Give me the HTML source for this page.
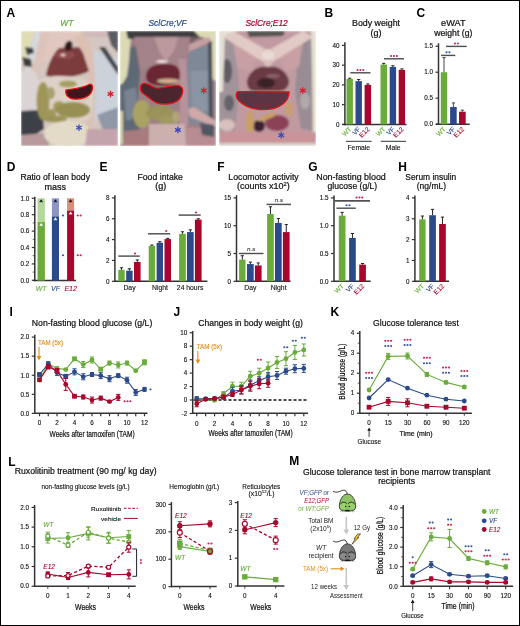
<!DOCTYPE html>
<html><head><meta charset="utf-8"><style>
html,body{margin:0;padding:0;background:#fff;}
#w{position:relative;width:520px;height:626px;overflow:hidden;background:#fff;}
svg{position:absolute;left:0;top:0;font-family:"Liberation Sans",sans-serif;will-change:transform;}
#frame{position:absolute;left:0;top:0;width:518px;height:624px;border:1px solid #000;}
</style></head><body><div id="w">
<svg width="520" height="626" viewBox="0 0 520 626">
<defs><filter id="pb" x="-5%" y="-5%" width="110%" height="110%"><feGaussianBlur stdDeviation="1.3"/></filter><filter id="pb2"><feGaussianBlur stdDeviation="0.5"/></filter><clipPath id="c1"><rect x="0" y="0" width="97" height="115"/></clipPath><clipPath id="c2"><rect x="0" y="0" width="96" height="115"/></clipPath></defs>
<g transform="translate(21 31)"><g clip-path="url(#c1)"><g filter="url(#pb)"><rect x="0" y="0" width="97" height="115" fill="#d4c6c0"/><polygon points="0,0 14,0 11,10 7,22 4,32 0,34" fill="#e0dcb6"/><polygon points="14,0 22,0 16,20 10,40 4,42 6,30 10,14" fill="#d6d8da"/><polygon points="4,16 12,17 13,22 6,24" fill="#3c3e40"/><polygon points="1,26 10,28 11,36 3,35" fill="#3c3e40"/><polygon points="20,0 30,0 24,28 12,55 4,52 14,28" fill="#dcc4bc"/><polygon points="30,0 97,0 97,6 30,6" fill="#d0b8b8"/><polygon points="30,0 62,0 52,12 44,16 36,20 28,30 22,30" fill="#e0c8c0"/><path d="M25 44 C27 34 31 24 38 17 L62 16 C66 22 69 32 68 40 C60 45 48 46 40 46 C32 46 26 46 25 44Z" fill="#7c3a3c"/><ellipse cx="44" cy="24" rx="10" ry="4" fill="#8e4e4e"/><ellipse cx="47.5" cy="15" rx="3.8" ry="5.5" fill="#2e1a1c" transform="rotate(20 47.5 15)"/><ellipse cx="42" cy="24" rx="2.5" ry="1.2" fill="#e8d0d0"/><polygon points="52,6 62,2 72,20 76,40 74,60 72,80 70,100 66,100 68,70 68,40 62,22" fill="#dcc0b4"/><polygon points="72,18 97,28 97,86 74,88 75,60" fill="#ccd2da"/><polygon points="76,84 97,76 97,106 84,104" fill="#8e98a6"/><polygon points="78,16 84,16 97,36 97,44" fill="#42464c"/><polygon points="86,0 97,0 97,22 90,14" fill="#5a5c62"/><polygon points="0,40 14,40 22,60 20,80 0,80" fill="#dcd4d4"/><polygon points="0,80 16,79 22,84 23,98 14,104 0,104" fill="#3c4046"/><polygon points="0,104 26,102 28,115 0,115" fill="#b89a9c"/><path d="M18 50 C24 45 36 44 52 46 C62 47 70 50 72 60 C73 70 71 82 68 88 C60 93 44 93 30 92 C22 90 17 84 16 72 C15 62 15 54 18 50Z" fill="#ddd0c6"/><ellipse cx="22" cy="70" rx="6.5" ry="19" fill="#9e9658"/><ellipse cx="38" cy="76" rx="6" ry="6" fill="#a49c5c"/><ellipse cx="30" cy="83" rx="5" ry="5" fill="#a09858"/><ellipse cx="47" cy="53" rx="9" ry="3.5" fill="#a69e60"/><ellipse cx="52" cy="79" rx="17" ry="8" fill="#989052"/><ellipse cx="34" cy="88" rx="12" ry="3.5" fill="#9c9456"/><ellipse cx="30" cy="62" rx="4" ry="6" fill="#a8a070"/><ellipse cx="61" cy="66" rx="7" ry="3" fill="#c8bc98"/><ellipse cx="47" cy="103" rx="24" ry="13" fill="#e3dbc8"/><polygon points="66,98 97,98 97,115 64,115" fill="#c4a4ac"/></g></g>
<path d="M45 59 C52 58 62 57 68 53.5 C72 52 72 57 70.5 61 C68 66 60 68.5 53 68 C47 67.5 44 64 45 59 Z" fill="#3e161c" stroke="#e01414" stroke-width="1.3"/>
</g>
<g transform="translate(120 31)"><g clip-path="url(#c2)"><g filter="url(#pb)"><rect x="0" y="0" width="96" height="115" fill="#9c7e86"/><polygon points="0,20 18,14 20,40 18,70 20,106 0,108" fill="#5e6874"/><polygon points="4,60 16,56 18,86 6,90" fill="#7a8490"/><polygon points="0,0 12,0 10,15 9,30 7,45 3,52 0,54" fill="#dcdab4"/><polygon points="0,80 3,80 3,113 0,113" fill="#d0cca8"/><polygon points="6,0 90,0 88,7 8,8" fill="#3e3c40"/><polygon points="14,6 80,6 70,14 24,14" fill="#7a5e64"/><polygon points="74,0 96,0 96,50 92,48 90,8 80,6" fill="#dcdab4"/><polygon points="64,20 90,14 93,60 93,94 66,92" fill="#7e8896"/><polygon points="70,40 88,40 88,80 72,80" fill="#8a94a2"/><polygon points="88,10 92,10 93,100 89,100" fill="#4a4e58"/><polygon points="62,16 88,6 92,10 66,22" fill="#c6a0a2"/><polygon points="14,6 70,6 68,30 58,36 30,36 20,40" fill="#a4828a"/><polygon points="34,6 58,6 54,20 46,30 40,22" fill="#bc9a9c"/><polygon points="58,28 66,28 68,60 68,95 60,95 60,60" fill="#b8929a"/><path d="M26 46 C26 38 32 33 42 33 C52 32 60 35 60 42 C61 50 56 55 44 55 C32 55 26 52 26 46Z" fill="#6a2830"/><ellipse cx="48" cy="50" rx="11" ry="2.6" fill="#c8b090"/><ellipse cx="42" cy="30.5" rx="6" ry="1.4" fill="#f0e0dc"/><ellipse cx="22" cy="83" rx="9" ry="14" fill="#aaa264"/><ellipse cx="40" cy="82" rx="14" ry="8" fill="#99925a"/><ellipse cx="48" cy="89" rx="10" ry="4" fill="#a09860"/><ellipse cx="56" cy="86" rx="4" ry="6" fill="#b0a478"/><polygon points="4,100 30,98 30,115 4,115" fill="#a87c7e"/><polygon points="29,93 65,93 66,115 29,115" fill="#ccb0b0"/><polygon points="66,96 96,98 96,115 66,115" fill="#b88c90"/><polygon points="68,78 74,76 96,90 96,96 70,86" fill="#d0a8a8"/><polygon points="80,92 94,94 94,106 82,104" fill="#505860"/></g></g>
<path d="M20.5 57 C20.5 53 23 52 26 52.6 C30 53.5 33 56.5 37 57.2 C43 57 52 54.5 58 54.6 C62 55 63.5 58 62.5 62 C61.5 66 58 70.5 53 72 C47 73.5 40 73 36 71.6 C31 69 27 65 23.5 62.8 C21.5 61.5 20.5 59.5 20.5 57 Z" fill="#4c262e" stroke="#e01414" stroke-width="1.3"/>
</g>
<g transform="translate(219 31)"><g clip-path="url(#c1)"><g filter="url(#pb)"><rect x="0" y="0" width="97" height="115" fill="#c09aa0"/><polygon points="0,8 16,8 20,60 16,100 0,100" fill="#a0939a"/><ellipse cx="8" cy="40" rx="5" ry="12" fill="#5e5c64"/><ellipse cx="10" cy="72" rx="5" ry="8" fill="#66646a"/><polygon points="80,8 94,8 94,100 82,98 76,60" fill="#9a8c94"/><ellipse cx="86" cy="70" rx="5" ry="8" fill="#b0a8aa"/><polygon points="0,0 6,0 4,60 0,62" fill="#e4e0d4"/><polygon points="0,0 18,0 10,6 0,8" fill="#e4e0d4"/><polygon points="92,0 97,0 97,115 94,115 93,40" fill="#e4e0d0"/><polygon points="28,0 66,0 64,5 30,6" fill="#55524f"/><polygon points="14,10 40,26 30,40 18,36" fill="#c8a0a4"/><polygon points="84,10 58,26 68,40 80,36" fill="#c8a0a4"/><polygon points="4,6 14,0 50,20 46,32" fill="#e2cac6"/><polygon points="94,6 84,0 48,20 52,32" fill="#e2cac6"/><polygon points="44,18 54,18 52,40 46,40" fill="#dcc0bc"/><ellipse cx="49" cy="24" rx="6" ry="5" fill="#eadad6"/><path d="M28 50 C30 40 40 34 49 36 C58 34 68 40 70 50 C70 56 66 60 60 60 L36 60 C30 60 28 56 28 50Z" fill="#6a3a44"/><ellipse cx="47" cy="52" rx="9" ry="5" fill="#3a2026"/><ellipse cx="54" cy="45" rx="7" ry="2" fill="#8a6068"/><ellipse cx="58" cy="92" rx="12" ry="8" fill="#8c4256"/><ellipse cx="40" cy="95" rx="6" ry="6" fill="#3e2430"/><ellipse cx="31" cy="92" rx="4" ry="13" fill="#c8a064"/><ellipse cx="48" cy="86" rx="10" ry="2.5" fill="#c8a064" transform="rotate(-20 48 86)"/><ellipse cx="70" cy="78" rx="4" ry="7" fill="#c8a070"/><ellipse cx="8" cy="94" rx="8" ry="6" fill="#d8c0bc"/><polygon points="0,101 97,101 97,112 0,112" fill="#c8949a"/><polygon points="0,112 97,112 97,115 0,115" fill="#ddd4cc"/></g></g>
<path d="M19 60.6 L70 60.8 C70.5 66 67 72 60 75.5 C54 78.5 46 79 40 78.5 C31 77.5 24 74 19.5 69.5 C16.5 66 16.5 62 19 60.6 Z" fill="#5c3444" stroke="#e01414" stroke-width="1.3"/>
</g>
<line x1="110.50" y1="91.20" x2="110.50" y2="96.80" stroke="#d8202c" stroke-width="1.25" stroke-linecap="round"/><line x1="112.92" y1="92.60" x2="108.08" y2="95.40" stroke="#d8202c" stroke-width="1.25" stroke-linecap="round"/><line x1="112.92" y1="95.40" x2="108.08" y2="92.60" stroke="#d8202c" stroke-width="1.25" stroke-linecap="round"/>
<line x1="79.00" y1="124.80" x2="79.00" y2="130.40" stroke="#3848c0" stroke-width="1.25" stroke-linecap="round"/><line x1="81.42" y1="126.20" x2="76.58" y2="129.00" stroke="#3848c0" stroke-width="1.25" stroke-linecap="round"/><line x1="81.42" y1="129.00" x2="76.58" y2="126.20" stroke="#3848c0" stroke-width="1.25" stroke-linecap="round"/>
<line x1="203.80" y1="87.70" x2="203.80" y2="93.30" stroke="#d8202c" stroke-width="1.25" stroke-linecap="round"/><line x1="206.22" y1="89.10" x2="201.38" y2="91.90" stroke="#d8202c" stroke-width="1.25" stroke-linecap="round"/><line x1="206.22" y1="91.90" x2="201.38" y2="89.10" stroke="#d8202c" stroke-width="1.25" stroke-linecap="round"/>
<line x1="177.90" y1="127.20" x2="177.90" y2="132.80" stroke="#3848c0" stroke-width="1.25" stroke-linecap="round"/><line x1="180.32" y1="128.60" x2="175.48" y2="131.40" stroke="#3848c0" stroke-width="1.25" stroke-linecap="round"/><line x1="180.32" y1="131.40" x2="175.48" y2="128.60" stroke="#3848c0" stroke-width="1.25" stroke-linecap="round"/>
<line x1="302.80" y1="87.70" x2="302.80" y2="93.30" stroke="#d8202c" stroke-width="1.25" stroke-linecap="round"/><line x1="305.22" y1="89.10" x2="300.38" y2="91.90" stroke="#d8202c" stroke-width="1.25" stroke-linecap="round"/><line x1="305.22" y1="91.90" x2="300.38" y2="89.10" stroke="#d8202c" stroke-width="1.25" stroke-linecap="round"/>
<line x1="281.20" y1="132.40" x2="281.20" y2="138.00" stroke="#3848c0" stroke-width="1.25" stroke-linecap="round"/><line x1="283.62" y1="133.80" x2="278.78" y2="136.60" stroke="#3848c0" stroke-width="1.25" stroke-linecap="round"/><line x1="283.62" y1="136.60" x2="278.78" y2="133.80" stroke="#3848c0" stroke-width="1.25" stroke-linecap="round"/>
<text x="6.6" y="16.9" font-size="12" fill="#000" font-weight="bold">A</text>
<text x="66.8" y="25.6" font-size="8.4" fill="#6aab3c" text-anchor="middle" font-style="italic" stroke="#6aab3c" stroke-width="0.22">WT</text>
<text x="167.6" y="25.9" font-size="8.4" fill="#2c4a8a" text-anchor="middle" font-style="italic" stroke="#2c4a8a" stroke-width="0.22">SclCre;VF</text>
<text x="266.6" y="25.9" font-size="8.4" fill="#a8062c" text-anchor="middle" font-style="italic" stroke="#a8062c" stroke-width="0.22">SclCre;E12</text>
<text x="324.6" y="16.8" font-size="12" fill="#000" font-weight="bold">B</text>
<text x="376" y="26" font-size="9" fill="#111" text-anchor="middle" textLength="48" lengthAdjust="spacingAndGlyphs" stroke="#111" stroke-width="0.22">Body weight</text>
<text x="375.9" y="36.2" font-size="9" fill="#111" text-anchor="middle" stroke="#111" stroke-width="0.22">(g)</text>
<line x1="344.9" y1="42.3" x2="344.9" y2="125.15" stroke="#333" stroke-width="1.5"/>
<line x1="341.9" y1="124.4" x2="344.9" y2="124.4" stroke="#333" stroke-width="1.2"/>
<text x="339.4" y="126.67" font-size="6.3" fill="#111" text-anchor="end" stroke="#111" stroke-width="0.12">0</text>
<line x1="341.9" y1="104.65" x2="344.9" y2="104.65" stroke="#333" stroke-width="1.2"/>
<text x="339.4" y="106.92" font-size="6.3" fill="#111" text-anchor="end" stroke="#111" stroke-width="0.12">10</text>
<line x1="341.9" y1="84.9" x2="344.9" y2="84.9" stroke="#333" stroke-width="1.2"/>
<text x="339.4" y="87.17" font-size="6.3" fill="#111" text-anchor="end" stroke="#111" stroke-width="0.12">20</text>
<line x1="341.9" y1="65.15" x2="344.9" y2="65.15" stroke="#333" stroke-width="1.2"/>
<text x="339.4" y="67.42" font-size="6.3" fill="#111" text-anchor="end" stroke="#111" stroke-width="0.12">30</text>
<line x1="341.9" y1="45.4" x2="344.9" y2="45.4" stroke="#333" stroke-width="1.2"/>
<text x="339.4" y="47.67" font-size="6.3" fill="#111" text-anchor="end" stroke="#111" stroke-width="0.12">40</text>
<line x1="342.5" y1="124.4" x2="406.5" y2="124.4" stroke="#333" stroke-width="1.5"/>
<rect x="346.5" y="78.97" width="6.4" height="45.43" fill="#6aab3c"/>
<line x1="349.7" y1="78.19" x2="349.7" y2="78.97" stroke="#222" stroke-width="1"/>
<line x1="348.1" y1="78.19" x2="351.3" y2="78.19" stroke="#222" stroke-width="1"/>
<rect x="355.5" y="81.15" width="6.4" height="43.25" fill="#2c4a8a"/>
<line x1="358.7" y1="79.57" x2="358.7" y2="81.15" stroke="#222" stroke-width="1"/>
<line x1="357.1" y1="79.57" x2="360.3" y2="79.57" stroke="#222" stroke-width="1"/>
<rect x="364.6" y="84.9" width="6.5" height="39.5" fill="#a8062c"/>
<line x1="367.85" y1="83.91" x2="367.85" y2="84.9" stroke="#222" stroke-width="1"/>
<line x1="366.25" y1="83.91" x2="369.45" y2="83.91" stroke="#222" stroke-width="1"/>
<rect x="380.5" y="64.56" width="6.5" height="59.84" fill="#6aab3c"/>
<line x1="383.75" y1="63.37" x2="383.75" y2="64.56" stroke="#222" stroke-width="1"/>
<line x1="382.15" y1="63.37" x2="385.35" y2="63.37" stroke="#222" stroke-width="1"/>
<rect x="389.7" y="66.93" width="6.4" height="57.47" fill="#2c4a8a"/>
<line x1="392.9" y1="65.74" x2="392.9" y2="66.93" stroke="#222" stroke-width="1"/>
<line x1="391.3" y1="65.74" x2="394.5" y2="65.74" stroke="#222" stroke-width="1"/>
<rect x="398.7" y="69.89" width="6.4" height="54.51" fill="#a8062c"/>
<line x1="401.9" y1="68.9" x2="401.9" y2="69.89" stroke="#222" stroke-width="1"/>
<line x1="400.3" y1="68.9" x2="403.5" y2="68.9" stroke="#222" stroke-width="1"/>
<line x1="350.3" y1="72.8" x2="370.5" y2="72.8" stroke="#505050" stroke-width="1.45"/>
<ellipse cx="357.5" cy="69.9" rx="1.1" ry="1.0" fill="#c42a52"/>
<ellipse cx="360.4" cy="69.9" rx="1.1" ry="1.0" fill="#c42a52"/>
<ellipse cx="363.3" cy="69.9" rx="1.1" ry="1.0" fill="#c42a52"/>
<line x1="384" y1="58.8" x2="404" y2="58.8" stroke="#505050" stroke-width="1.45"/>
<ellipse cx="391.1" cy="55.9" rx="1.1" ry="1.0" fill="#c42a52"/>
<ellipse cx="394" cy="55.9" rx="1.1" ry="1.0" fill="#c42a52"/>
<ellipse cx="396.9" cy="55.9" rx="1.1" ry="1.0" fill="#c42a52"/>
<text x="351.9" y="129.6" font-size="6.6" fill="#6aab3c" text-anchor="end" transform="rotate(-45 351.9 129.6)" stroke="#6aab3c" stroke-width="0.12">WT</text>
<text x="360.9" y="129.6" font-size="6.6" fill="#2c4a8a" text-anchor="end" transform="rotate(-45 360.9 129.6)" stroke="#2c4a8a" stroke-width="0.12">VF</text>
<text x="370" y="129.6" font-size="6.6" fill="#a8062c" text-anchor="end" transform="rotate(-45 370 129.6)" stroke="#a8062c" stroke-width="0.12">E12</text>
<text x="385.9" y="129.6" font-size="6.6" fill="#6aab3c" text-anchor="end" transform="rotate(-45 385.9 129.6)" stroke="#6aab3c" stroke-width="0.12">WT</text>
<text x="395.1" y="129.6" font-size="6.6" fill="#2c4a8a" text-anchor="end" transform="rotate(-45 395.1 129.6)" stroke="#2c4a8a" stroke-width="0.12">VF</text>
<text x="404.1" y="129.6" font-size="6.6" fill="#a8062c" text-anchor="end" transform="rotate(-45 404.1 129.6)" stroke="#a8062c" stroke-width="0.12">E12</text>
<line x1="346" y1="141.3" x2="371.6" y2="141.3" stroke="#333" stroke-width="1"/>
<line x1="380.8" y1="141.3" x2="406" y2="141.3" stroke="#333" stroke-width="1"/>
<text x="358.8" y="150" font-size="6.8" fill="#111" text-anchor="middle" stroke="#111" stroke-width="0.12">Female</text>
<text x="393.2" y="150" font-size="6.8" fill="#111" text-anchor="middle" stroke="#111" stroke-width="0.12">Male</text>
<text x="416.4" y="16.8" font-size="12" fill="#000" font-weight="bold">C</text>
<text x="453.3" y="26" font-size="9" fill="#111" text-anchor="middle" textLength="24.5" lengthAdjust="spacingAndGlyphs" stroke="#111" stroke-width="0.22">eWAT</text>
<text x="453.3" y="36.2" font-size="9" fill="#111" text-anchor="middle" textLength="38.1" lengthAdjust="spacingAndGlyphs" stroke="#111" stroke-width="0.22">weight (g)</text>
<line x1="438.5" y1="43.3" x2="438.5" y2="125.05" stroke="#333" stroke-width="1.5"/>
<line x1="435.5" y1="124.2" x2="438.5" y2="124.2" stroke="#333" stroke-width="1.2"/>
<text x="433" y="126.47" font-size="6.3" fill="#111" text-anchor="end" stroke="#111" stroke-width="0.12">0.0</text>
<line x1="435.5" y1="98.2" x2="438.5" y2="98.2" stroke="#333" stroke-width="1.2"/>
<text x="433" y="100.47" font-size="6.3" fill="#111" text-anchor="end" stroke="#111" stroke-width="0.12">0.5</text>
<line x1="435.5" y1="72.2" x2="438.5" y2="72.2" stroke="#333" stroke-width="1.2"/>
<text x="433" y="74.47" font-size="6.3" fill="#111" text-anchor="end" stroke="#111" stroke-width="0.12">1.0</text>
<line x1="435.5" y1="46.2" x2="438.5" y2="46.2" stroke="#333" stroke-width="1.2"/>
<text x="433" y="48.47" font-size="6.3" fill="#111" text-anchor="end" stroke="#111" stroke-width="0.12">1.5</text>
<line x1="436" y1="124.3" x2="469.7" y2="124.3" stroke="#333" stroke-width="1.5"/>
<rect x="440.8" y="72.2" width="6.4" height="52.1" fill="#6aab3c"/>
<line x1="444" y1="57.64" x2="444" y2="72.2" stroke="#444" stroke-width="1"/>
<line x1="442.4" y1="57.64" x2="445.6" y2="57.64" stroke="#444" stroke-width="1"/>
<rect x="450.1" y="107.04" width="6.6" height="17.26" fill="#2c4a8a"/>
<line x1="453.4" y1="102.88" x2="453.4" y2="107.04" stroke="#444" stroke-width="1"/>
<line x1="451.8" y1="102.88" x2="455" y2="102.88" stroke="#444" stroke-width="1"/>
<rect x="459" y="111.72" width="6.7" height="12.58" fill="#a8062c"/>
<line x1="462.35" y1="110.16" x2="462.35" y2="111.72" stroke="#444" stroke-width="1"/>
<line x1="460.75" y1="110.16" x2="463.95" y2="110.16" stroke="#444" stroke-width="1"/>
<line x1="441.1" y1="55.4" x2="455.3" y2="55.4" stroke="#505050" stroke-width="1.45"/>
<ellipse cx="446.55" cy="52.2" rx="1.1" ry="1.0" fill="#3a58a4"/>
<ellipse cx="449.45" cy="52.2" rx="1.1" ry="1.0" fill="#3a58a4"/>
<line x1="446" y1="46.4" x2="466.7" y2="46.4" stroke="#505050" stroke-width="1.45"/>
<ellipse cx="454.95" cy="43.4" rx="1.1" ry="1.0" fill="#c42a52"/>
<ellipse cx="457.85" cy="43.4" rx="1.1" ry="1.0" fill="#c42a52"/>
<text x="446.2" y="129.6" font-size="6.6" fill="#6aab3c" text-anchor="end" transform="rotate(-45 446.2 129.6)" stroke="#6aab3c" stroke-width="0.12">WT</text>
<text x="455.6" y="129.6" font-size="6.6" fill="#2c4a8a" text-anchor="end" transform="rotate(-45 455.6 129.6)" stroke="#2c4a8a" stroke-width="0.12">VF</text>
<text x="464.5" y="129.6" font-size="6.6" fill="#a8062c" text-anchor="end" transform="rotate(-45 464.5 129.6)" stroke="#a8062c" stroke-width="0.12">E12</text>
<text x="6.8" y="170.9" font-size="12" fill="#000" font-weight="bold">D</text>
<text x="55.2" y="179.8" font-size="9" fill="#111" text-anchor="middle" textLength="69.6" lengthAdjust="spacingAndGlyphs" stroke="#111" stroke-width="0.22">Ratio of lean body</text>
<text x="55.2" y="189.8" font-size="9" fill="#111" text-anchor="middle" stroke="#111" stroke-width="0.22">mass</text>
<line x1="34.8" y1="196.8" x2="34.8" y2="281.35" stroke="#333" stroke-width="1.5"/>
<line x1="31.8" y1="280.3" x2="34.8" y2="280.3" stroke="#333" stroke-width="1.2"/>
<text x="29.3" y="282.57" font-size="6.3" fill="#111" text-anchor="end" stroke="#111" stroke-width="0.12">0.0</text>
<line x1="31.8" y1="263.9" x2="34.8" y2="263.9" stroke="#333" stroke-width="1.2"/>
<text x="29.3" y="266.17" font-size="6.3" fill="#111" text-anchor="end" stroke="#111" stroke-width="0.12">0.2</text>
<line x1="31.8" y1="247.5" x2="34.8" y2="247.5" stroke="#333" stroke-width="1.2"/>
<text x="29.3" y="249.77" font-size="6.3" fill="#111" text-anchor="end" stroke="#111" stroke-width="0.12">0.4</text>
<line x1="31.8" y1="231.1" x2="34.8" y2="231.1" stroke="#333" stroke-width="1.2"/>
<text x="29.3" y="233.37" font-size="6.3" fill="#111" text-anchor="end" stroke="#111" stroke-width="0.12">0.6</text>
<line x1="31.8" y1="214.7" x2="34.8" y2="214.7" stroke="#333" stroke-width="1.2"/>
<text x="29.3" y="216.97" font-size="6.3" fill="#111" text-anchor="end" stroke="#111" stroke-width="0.12">0.8</text>
<line x1="31.8" y1="198.3" x2="34.8" y2="198.3" stroke="#333" stroke-width="1.2"/>
<text x="29.3" y="200.57" font-size="6.3" fill="#111" text-anchor="end" stroke="#111" stroke-width="0.12">1.0</text>
<line x1="32.7" y1="272.1" x2="34.8" y2="272.1" stroke="#333" stroke-width="0.8"/>
<line x1="32.7" y1="255.7" x2="34.8" y2="255.7" stroke="#333" stroke-width="0.8"/>
<line x1="32.7" y1="239.3" x2="34.8" y2="239.3" stroke="#333" stroke-width="0.8"/>
<line x1="32.7" y1="222.9" x2="34.8" y2="222.9" stroke="#333" stroke-width="0.8"/>
<line x1="32.7" y1="206.5" x2="34.8" y2="206.5" stroke="#333" stroke-width="0.8"/>
<line x1="33.5" y1="280.6" x2="76" y2="280.6" stroke="#333" stroke-width="1.5"/>
<rect x="37.5" y="198.3" width="7.4" height="23.78" fill="#b6d79c"/>
<rect x="37.5" y="222.08" width="7.4" height="58.52" fill="#6aab3c"/>
<path d="M41.2 199.2 l1.7 2.6 h-3.4z" fill="#111"/>
<path d="M41.2 222.98 l1.7 2.6 h-3.4z" fill="#fff"/>
<line x1="39.5" y1="201.8" x2="42.9" y2="201.8" stroke="#111" stroke-width="0.6"/>
<line x1="39.5" y1="225.58" x2="42.9" y2="225.58" stroke="#fff" stroke-width="0.6"/>
<rect x="51.9" y="198.3" width="7.1" height="18.04" fill="#8d96c3"/>
<rect x="51.9" y="216.34" width="7.1" height="64.26" fill="#2c4a8a"/>
<path d="M55.45 199.2 l1.7 2.6 h-3.4z" fill="#111"/>
<path d="M55.45 217.24 l1.7 2.6 h-3.4z" fill="#fff"/>
<line x1="53.75" y1="201.8" x2="57.15" y2="201.8" stroke="#111" stroke-width="0.6"/>
<line x1="53.75" y1="219.84" x2="57.15" y2="219.84" stroke="#fff" stroke-width="0.6"/>
<rect x="67.1" y="198.3" width="7" height="12.3" fill="#d88c7a"/>
<rect x="67.1" y="210.6" width="7" height="70" fill="#a8062c"/>
<path d="M70.6 199.2 l1.7 2.6 h-3.4z" fill="#111"/>
<path d="M70.6 211.5 l1.7 2.6 h-3.4z" fill="#fff"/>
<line x1="68.9" y1="201.8" x2="72.3" y2="201.8" stroke="#111" stroke-width="0.6"/>
<line x1="68.9" y1="214.1" x2="72.3" y2="214.1" stroke="#fff" stroke-width="0.6"/>
<ellipse cx="63" cy="215.4" rx="1.1" ry="1.0" fill="#3a58a4"/>
<ellipse cx="63" cy="255.3" rx="1.1" ry="1.0" fill="#3a58a4"/>
<ellipse cx="77.75" cy="215.4" rx="1.1" ry="1.0" fill="#c42a52"/>
<ellipse cx="80.65" cy="215.4" rx="1.1" ry="1.0" fill="#c42a52"/>
<ellipse cx="77.75" cy="255.3" rx="1.1" ry="1.0" fill="#c42a52"/>
<ellipse cx="80.65" cy="255.3" rx="1.1" ry="1.0" fill="#c42a52"/>
<text x="41.2" y="291" font-size="7" fill="#6aab3c" text-anchor="middle" font-style="italic" stroke="#6aab3c" stroke-width="0.12">WT</text>
<text x="55.5" y="291" font-size="7" fill="#2c4a8a" text-anchor="middle" font-style="italic" stroke="#2c4a8a" stroke-width="0.12">VF</text>
<text x="70.7" y="291" font-size="7" fill="#a8062c" text-anchor="middle" font-style="italic" stroke="#a8062c" stroke-width="0.12">E12</text>
<text x="99.4" y="170.9" font-size="12" fill="#000" font-weight="bold">E</text>
<text x="160.2" y="179.8" font-size="9" fill="#111" text-anchor="middle" textLength="45.5" lengthAdjust="spacingAndGlyphs" stroke="#111" stroke-width="0.22">Food intake</text>
<text x="160.7" y="188.9" font-size="9" fill="#111" text-anchor="middle" stroke="#111" stroke-width="0.22">(g)</text>
<line x1="114.9" y1="195.3" x2="114.9" y2="282.05" stroke="#333" stroke-width="1.5"/>
<line x1="111.9" y1="281.3" x2="114.9" y2="281.3" stroke="#333" stroke-width="1.2"/>
<text x="109.4" y="283.57" font-size="6.3" fill="#111" text-anchor="end" stroke="#111" stroke-width="0.12">0</text>
<line x1="111.9" y1="260.45" x2="114.9" y2="260.45" stroke="#333" stroke-width="1.2"/>
<text x="109.4" y="262.72" font-size="6.3" fill="#111" text-anchor="end" stroke="#111" stroke-width="0.12">2</text>
<line x1="111.9" y1="239.6" x2="114.9" y2="239.6" stroke="#333" stroke-width="1.2"/>
<text x="109.4" y="241.87" font-size="6.3" fill="#111" text-anchor="end" stroke="#111" stroke-width="0.12">4</text>
<line x1="111.9" y1="218.75" x2="114.9" y2="218.75" stroke="#333" stroke-width="1.2"/>
<text x="109.4" y="221.02" font-size="6.3" fill="#111" text-anchor="end" stroke="#111" stroke-width="0.12">6</text>
<line x1="111.9" y1="197.9" x2="114.9" y2="197.9" stroke="#333" stroke-width="1.2"/>
<text x="109.4" y="200.17" font-size="6.3" fill="#111" text-anchor="end" stroke="#111" stroke-width="0.12">8</text>
<line x1="114.9" y1="281.3" x2="207.4" y2="281.3" stroke="#333" stroke-width="1.5"/>
<rect x="118.3" y="269.83" width="6.4" height="11.47" fill="#6aab3c"/>
<line x1="121.5" y1="267.75" x2="121.5" y2="269.83" stroke="#222" stroke-width="1"/>
<line x1="119.9" y1="267.75" x2="123.1" y2="267.75" stroke="#222" stroke-width="1"/>
<rect x="126.2" y="270.67" width="6.4" height="10.63" fill="#2c4a8a"/>
<line x1="129.4" y1="268.79" x2="129.4" y2="270.67" stroke="#222" stroke-width="1"/>
<line x1="127.8" y1="268.79" x2="131" y2="268.79" stroke="#222" stroke-width="1"/>
<rect x="134" y="262.01" width="6.6" height="19.29" fill="#a8062c"/>
<line x1="137.3" y1="259.93" x2="137.3" y2="262.01" stroke="#222" stroke-width="1"/>
<line x1="135.7" y1="259.93" x2="138.9" y2="259.93" stroke="#222" stroke-width="1"/>
<rect x="148.7" y="245.86" width="6.4" height="35.44" fill="#6aab3c"/>
<line x1="151.9" y1="245.02" x2="151.9" y2="245.86" stroke="#222" stroke-width="1"/>
<line x1="150.3" y1="245.02" x2="153.5" y2="245.02" stroke="#222" stroke-width="1"/>
<rect x="156.6" y="242.73" width="6.4" height="38.57" fill="#2c4a8a"/>
<line x1="159.8" y1="241.69" x2="159.8" y2="242.73" stroke="#222" stroke-width="1"/>
<line x1="158.2" y1="241.69" x2="161.4" y2="241.69" stroke="#222" stroke-width="1"/>
<rect x="164.5" y="239.08" width="6.5" height="42.22" fill="#a8062c"/>
<line x1="167.75" y1="238.35" x2="167.75" y2="239.08" stroke="#222" stroke-width="1"/>
<line x1="166.15" y1="238.35" x2="169.35" y2="238.35" stroke="#222" stroke-width="1"/>
<rect x="179.1" y="233.87" width="6.7" height="47.43" fill="#6aab3c"/>
<line x1="182.45" y1="231.78" x2="182.45" y2="233.87" stroke="#222" stroke-width="1"/>
<line x1="180.85" y1="231.78" x2="184.05" y2="231.78" stroke="#222" stroke-width="1"/>
<rect x="187" y="232.09" width="6.7" height="49.21" fill="#2c4a8a"/>
<line x1="190.35" y1="229.9" x2="190.35" y2="232.09" stroke="#222" stroke-width="1"/>
<line x1="188.75" y1="229.9" x2="191.95" y2="229.9" stroke="#222" stroke-width="1"/>
<rect x="194.9" y="219.58" width="6.7" height="61.72" fill="#a8062c"/>
<line x1="198.25" y1="218.75" x2="198.25" y2="219.58" stroke="#222" stroke-width="1"/>
<line x1="196.65" y1="218.75" x2="199.85" y2="218.75" stroke="#222" stroke-width="1"/>
<line x1="118.3" y1="256.1" x2="139.8" y2="256.1" stroke="#505050" stroke-width="1.45"/>
<ellipse cx="135" cy="253.6" rx="1.1" ry="1.0" fill="#c42a52"/>
<line x1="148" y1="233.8" x2="170.2" y2="233.8" stroke="#505050" stroke-width="1.45"/>
<ellipse cx="166.2" cy="231.1" rx="1.1" ry="1.0" fill="#c42a52"/>
<line x1="178.6" y1="215.1" x2="200.7" y2="215.1" stroke="#505050" stroke-width="1.45"/>
<ellipse cx="196" cy="212.4" rx="1.1" ry="1.0" fill="#c42a52"/>
<text x="129.5" y="290.3" font-size="6.8" fill="#111" text-anchor="middle" stroke="#111" stroke-width="0.12">Day</text>
<text x="160" y="290.3" font-size="6.8" fill="#111" text-anchor="middle" stroke="#111" stroke-width="0.12">Night</text>
<text x="190.1" y="290.3" font-size="6.8" fill="#111" text-anchor="middle" stroke="#111" stroke-width="0.12">24 hours</text>
<text x="217.2" y="170.9" font-size="12" fill="#000" font-weight="bold">F</text>
<text x="263.5" y="179.8" font-size="9" fill="#111" text-anchor="middle" textLength="70.4" lengthAdjust="spacingAndGlyphs" stroke="#111" stroke-width="0.22">Locomotor activity</text>
<text x="263.3" y="189" font-size="9" fill="#111" text-anchor="middle" stroke="#111" stroke-width="0.22">(counts x10<tspan font-size="5.8" dy="-3.2">2</tspan><tspan dy="3.2">)</tspan></text>
<line x1="236.5" y1="195.2" x2="236.5" y2="282.05" stroke="#333" stroke-width="1.5"/>
<line x1="233.5" y1="281.3" x2="236.5" y2="281.3" stroke="#333" stroke-width="1.2"/>
<text x="231" y="283.57" font-size="6.3" fill="#111" text-anchor="end" stroke="#111" stroke-width="0.12">0</text>
<line x1="233.5" y1="253.5" x2="236.5" y2="253.5" stroke="#333" stroke-width="1.2"/>
<text x="231" y="255.77" font-size="6.3" fill="#111" text-anchor="end" stroke="#111" stroke-width="0.12">5</text>
<line x1="233.5" y1="225.7" x2="236.5" y2="225.7" stroke="#333" stroke-width="1.2"/>
<text x="231" y="227.97" font-size="6.3" fill="#111" text-anchor="end" stroke="#111" stroke-width="0.12">10</text>
<line x1="233.5" y1="197.9" x2="236.5" y2="197.9" stroke="#333" stroke-width="1.2"/>
<text x="231" y="200.17" font-size="6.3" fill="#111" text-anchor="end" stroke="#111" stroke-width="0.12">15</text>
<line x1="236.5" y1="281.3" x2="290.6" y2="281.3" stroke="#333" stroke-width="1.5"/>
<rect x="239.1" y="259.62" width="6.4" height="21.68" fill="#6aab3c"/>
<line x1="242.3" y1="255.72" x2="242.3" y2="259.62" stroke="#222" stroke-width="1"/>
<line x1="240.7" y1="255.72" x2="243.9" y2="255.72" stroke="#222" stroke-width="1"/>
<rect x="247" y="264.06" width="6.7" height="17.24" fill="#2c4a8a"/>
<line x1="250.35" y1="262.12" x2="250.35" y2="264.06" stroke="#222" stroke-width="1"/>
<line x1="248.75" y1="262.12" x2="251.95" y2="262.12" stroke="#222" stroke-width="1"/>
<rect x="254.9" y="265.45" width="6.7" height="15.85" fill="#a8062c"/>
<line x1="258.25" y1="262.95" x2="258.25" y2="265.45" stroke="#222" stroke-width="1"/>
<line x1="256.65" y1="262.95" x2="259.85" y2="262.95" stroke="#222" stroke-width="1"/>
<rect x="267.1" y="214.02" width="6.7" height="67.28" fill="#6aab3c"/>
<line x1="270.45" y1="206.8" x2="270.45" y2="214.02" stroke="#222" stroke-width="1"/>
<line x1="268.85" y1="206.8" x2="272.05" y2="206.8" stroke="#222" stroke-width="1"/>
<rect x="275" y="222.92" width="6.7" height="58.38" fill="#2c4a8a"/>
<line x1="278.35" y1="218.47" x2="278.35" y2="222.92" stroke="#222" stroke-width="1"/>
<line x1="276.75" y1="218.47" x2="279.95" y2="218.47" stroke="#222" stroke-width="1"/>
<rect x="282.9" y="232.09" width="6.7" height="49.21" fill="#a8062c"/>
<line x1="286.25" y1="224.59" x2="286.25" y2="232.09" stroke="#222" stroke-width="1"/>
<line x1="284.65" y1="224.59" x2="287.85" y2="224.59" stroke="#222" stroke-width="1"/>
<line x1="239" y1="253.5" x2="263.5" y2="253.5" stroke="#505050" stroke-width="1.45"/>
<text x="251.2" y="251" font-size="6.2" fill="#333" text-anchor="middle" font-style="italic" stroke="#333" stroke-width="0.12">n.s</text>
<line x1="266.6" y1="204.4" x2="291" y2="204.4" stroke="#505050" stroke-width="1.45"/>
<text x="279" y="202" font-size="6.2" fill="#333" text-anchor="middle" font-style="italic" stroke="#333" stroke-width="0.12">n.s</text>
<text x="250.3" y="290.3" font-size="6.8" fill="#111" text-anchor="middle" stroke="#111" stroke-width="0.12">Day</text>
<text x="278.6" y="290.3" font-size="6.8" fill="#111" text-anchor="middle" stroke="#111" stroke-width="0.12">Night</text>
<text x="308.2" y="170.9" font-size="12" fill="#000" font-weight="bold">G</text>
<text x="351" y="179.8" font-size="9" fill="#111" text-anchor="middle" textLength="69.5" lengthAdjust="spacingAndGlyphs" stroke="#111" stroke-width="0.22">Non-fasting blood</text>
<text x="352.4" y="189" font-size="9" fill="#111" text-anchor="middle" textLength="49.6" lengthAdjust="spacingAndGlyphs" stroke="#111" stroke-width="0.22">glucose (g/L)</text>
<line x1="334" y1="195.5" x2="334" y2="282.05" stroke="#333" stroke-width="1.5"/>
<line x1="331" y1="281.3" x2="334" y2="281.3" stroke="#333" stroke-width="1.2"/>
<text x="328.5" y="283.57" font-size="6.3" fill="#111" text-anchor="end" stroke="#111" stroke-width="0.12">0.0</text>
<line x1="331" y1="253.5" x2="334" y2="253.5" stroke="#333" stroke-width="1.2"/>
<text x="328.5" y="255.77" font-size="6.3" fill="#111" text-anchor="end" stroke="#111" stroke-width="0.12">0.5</text>
<line x1="331" y1="225.7" x2="334" y2="225.7" stroke="#333" stroke-width="1.2"/>
<text x="328.5" y="227.97" font-size="6.3" fill="#111" text-anchor="end" stroke="#111" stroke-width="0.12">1.0</text>
<line x1="331" y1="197.9" x2="334" y2="197.9" stroke="#333" stroke-width="1.2"/>
<text x="328.5" y="200.17" font-size="6.3" fill="#111" text-anchor="end" stroke="#111" stroke-width="0.12">1.5</text>
<line x1="334" y1="281.3" x2="370.7" y2="281.3" stroke="#333" stroke-width="1.5"/>
<rect x="338.8" y="215.69" width="6.7" height="65.61" fill="#6aab3c"/>
<line x1="342.15" y1="212.36" x2="342.15" y2="215.69" stroke="#222" stroke-width="1"/>
<line x1="340.55" y1="212.36" x2="343.75" y2="212.36" stroke="#222" stroke-width="1"/>
<rect x="349.1" y="237.93" width="6.7" height="43.37" fill="#2c4a8a"/>
<line x1="352.45" y1="233.48" x2="352.45" y2="237.93" stroke="#222" stroke-width="1"/>
<line x1="350.85" y1="233.48" x2="354.05" y2="233.48" stroke="#222" stroke-width="1"/>
<rect x="359.2" y="264.62" width="6.7" height="16.68" fill="#a8062c"/>
<line x1="362.55" y1="263.51" x2="362.55" y2="264.62" stroke="#222" stroke-width="1"/>
<line x1="360.95" y1="263.51" x2="364.15" y2="263.51" stroke="#222" stroke-width="1"/>
<line x1="334.7" y1="200.8" x2="370" y2="200.8" stroke="#505050" stroke-width="1.8"/>
<ellipse cx="356.5" cy="197.6" rx="1.1" ry="1.0" fill="#c42a52"/>
<ellipse cx="359.4" cy="197.6" rx="1.1" ry="1.0" fill="#c42a52"/>
<ellipse cx="362.3" cy="197.6" rx="1.1" ry="1.0" fill="#c42a52"/>
<line x1="336.4" y1="208.2" x2="355.8" y2="208.2" stroke="#505050" stroke-width="1.45"/>
<ellipse cx="346.55" cy="205.3" rx="1.1" ry="1.0" fill="#3a58a4"/>
<ellipse cx="349.45" cy="205.3" rx="1.1" ry="1.0" fill="#3a58a4"/>
<text x="344.3" y="286.6" font-size="6.6" fill="#6aab3c" text-anchor="end" transform="rotate(-45 344.3 286.6)" stroke="#6aab3c" stroke-width="0.12">WT</text>
<text x="354.6" y="286.6" font-size="6.6" fill="#2c4a8a" text-anchor="end" transform="rotate(-45 354.6 286.6)" stroke="#2c4a8a" stroke-width="0.12">VF</text>
<text x="364.7" y="286.6" font-size="6.6" fill="#a8062c" text-anchor="end" transform="rotate(-45 364.7 286.6)" stroke="#a8062c" stroke-width="0.12">E12</text>
<text x="398.2" y="170.9" font-size="12" fill="#000" font-weight="bold">H</text>
<text x="430.8" y="179.8" font-size="9" fill="#111" text-anchor="middle" textLength="51" lengthAdjust="spacingAndGlyphs" stroke="#111" stroke-width="0.22">Serum insulin</text>
<text x="431.4" y="189" font-size="9" fill="#111" text-anchor="middle" textLength="29.2" lengthAdjust="spacingAndGlyphs" stroke="#111" stroke-width="0.22">(ng/mL)</text>
<line x1="414.9" y1="195.5" x2="414.9" y2="282.05" stroke="#333" stroke-width="1.5"/>
<line x1="411.9" y1="281.3" x2="414.9" y2="281.3" stroke="#333" stroke-width="1.2"/>
<text x="409.4" y="283.57" font-size="6.3" fill="#111" text-anchor="end" stroke="#111" stroke-width="0.12">0</text>
<line x1="411.9" y1="260.45" x2="414.9" y2="260.45" stroke="#333" stroke-width="1.2"/>
<text x="409.4" y="262.72" font-size="6.3" fill="#111" text-anchor="end" stroke="#111" stroke-width="0.12">1</text>
<line x1="411.9" y1="239.6" x2="414.9" y2="239.6" stroke="#333" stroke-width="1.2"/>
<text x="409.4" y="241.87" font-size="6.3" fill="#111" text-anchor="end" stroke="#111" stroke-width="0.12">2</text>
<line x1="411.9" y1="218.75" x2="414.9" y2="218.75" stroke="#333" stroke-width="1.2"/>
<text x="409.4" y="221.02" font-size="6.3" fill="#111" text-anchor="end" stroke="#111" stroke-width="0.12">3</text>
<line x1="411.9" y1="197.9" x2="414.9" y2="197.9" stroke="#333" stroke-width="1.2"/>
<text x="409.4" y="200.17" font-size="6.3" fill="#111" text-anchor="end" stroke="#111" stroke-width="0.12">4</text>
<line x1="414.9" y1="281.3" x2="449.1" y2="281.3" stroke="#333" stroke-width="1.5"/>
<rect x="419.2" y="219.38" width="6.4" height="61.92" fill="#6aab3c"/>
<line x1="422.4" y1="216.04" x2="422.4" y2="219.38" stroke="#222" stroke-width="1"/>
<line x1="420.8" y1="216.04" x2="424" y2="216.04" stroke="#222" stroke-width="1"/>
<rect x="429.2" y="215.21" width="6.7" height="66.09" fill="#2c4a8a"/>
<line x1="432.55" y1="209.37" x2="432.55" y2="215.21" stroke="#222" stroke-width="1"/>
<line x1="430.95" y1="209.37" x2="434.15" y2="209.37" stroke="#222" stroke-width="1"/>
<rect x="439.1" y="223.96" width="6.7" height="57.34" fill="#a8062c"/>
<line x1="442.45" y1="217.08" x2="442.45" y2="223.96" stroke="#222" stroke-width="1"/>
<line x1="440.85" y1="217.08" x2="444.05" y2="217.08" stroke="#222" stroke-width="1"/>
<text x="424.6" y="286.6" font-size="6.6" fill="#6aab3c" text-anchor="end" transform="rotate(-45 424.6 286.6)" stroke="#6aab3c" stroke-width="0.12">WT</text>
<text x="434.7" y="286.6" font-size="6.6" fill="#2c4a8a" text-anchor="end" transform="rotate(-45 434.7 286.6)" stroke="#2c4a8a" stroke-width="0.12">VF</text>
<text x="444.6" y="286.6" font-size="6.6" fill="#a8062c" text-anchor="end" transform="rotate(-45 444.6 286.6)" stroke="#a8062c" stroke-width="0.12">E12</text>
<text x="9.5" y="316.1" font-size="12" fill="#000" font-weight="bold">I</text>
<text x="31.8" y="325.6" font-size="9" fill="#111" textLength="120.5" lengthAdjust="spacingAndGlyphs" stroke="#111" stroke-width="0.22">Non-fasting blood glucose (g/L)</text>
<line x1="34.8" y1="334.8" x2="34.8" y2="414.05" stroke="#333" stroke-width="1.5"/>
<line x1="31.8" y1="413.4" x2="34.8" y2="413.4" stroke="#333" stroke-width="1.2"/>
<text x="29.3" y="415.67" font-size="6.3" fill="#111" text-anchor="end" stroke="#111" stroke-width="0.12">0.0</text>
<line x1="31.8" y1="394.32" x2="34.8" y2="394.32" stroke="#333" stroke-width="1.2"/>
<text x="29.3" y="396.59" font-size="6.3" fill="#111" text-anchor="end" stroke="#111" stroke-width="0.12">0.5</text>
<line x1="31.8" y1="375.25" x2="34.8" y2="375.25" stroke="#333" stroke-width="1.2"/>
<text x="29.3" y="377.52" font-size="6.3" fill="#111" text-anchor="end" stroke="#111" stroke-width="0.12">1.0</text>
<line x1="31.8" y1="356.17" x2="34.8" y2="356.17" stroke="#333" stroke-width="1.2"/>
<text x="29.3" y="358.44" font-size="6.3" fill="#111" text-anchor="end" stroke="#111" stroke-width="0.12">1.5</text>
<line x1="31.8" y1="337.1" x2="34.8" y2="337.1" stroke="#333" stroke-width="1.2"/>
<text x="29.3" y="339.37" font-size="6.3" fill="#111" text-anchor="end" stroke="#111" stroke-width="0.12">2.0</text>
<line x1="34.8" y1="413.3" x2="147.5" y2="413.3" stroke="#333" stroke-width="1.5"/>
<line x1="39.5" y1="413.3" x2="39.5" y2="416.3" stroke="#333" stroke-width="1.2"/>
<text x="39.5" y="425" font-size="6.3" fill="#111" text-anchor="middle" stroke="#111" stroke-width="0.12">0</text>
<line x1="48.25" y1="413.3" x2="48.25" y2="416.3" stroke="#333" stroke-width="1.2"/>
<line x1="57" y1="413.3" x2="57" y2="416.3" stroke="#333" stroke-width="1.2"/>
<text x="57" y="425" font-size="6.3" fill="#111" text-anchor="middle" stroke="#111" stroke-width="0.12">2</text>
<line x1="65.75" y1="413.3" x2="65.75" y2="416.3" stroke="#333" stroke-width="1.2"/>
<line x1="74.5" y1="413.3" x2="74.5" y2="416.3" stroke="#333" stroke-width="1.2"/>
<text x="74.5" y="425" font-size="6.3" fill="#111" text-anchor="middle" stroke="#111" stroke-width="0.12">4</text>
<line x1="83.25" y1="413.3" x2="83.25" y2="416.3" stroke="#333" stroke-width="1.2"/>
<line x1="92" y1="413.3" x2="92" y2="416.3" stroke="#333" stroke-width="1.2"/>
<text x="92" y="425" font-size="6.3" fill="#111" text-anchor="middle" stroke="#111" stroke-width="0.12">6</text>
<line x1="100.75" y1="413.3" x2="100.75" y2="416.3" stroke="#333" stroke-width="1.2"/>
<line x1="109.5" y1="413.3" x2="109.5" y2="416.3" stroke="#333" stroke-width="1.2"/>
<text x="109.5" y="425" font-size="6.3" fill="#111" text-anchor="middle" stroke="#111" stroke-width="0.12">8</text>
<line x1="118.25" y1="413.3" x2="118.25" y2="416.3" stroke="#333" stroke-width="1.2"/>
<line x1="127" y1="413.3" x2="127" y2="416.3" stroke="#333" stroke-width="1.2"/>
<text x="127" y="425" font-size="6.3" fill="#111" text-anchor="middle" stroke="#111" stroke-width="0.12">10</text>
<line x1="135.75" y1="413.3" x2="135.75" y2="416.3" stroke="#333" stroke-width="1.2"/>
<line x1="144.5" y1="413.3" x2="144.5" y2="416.3" stroke="#333" stroke-width="1.2"/>
<text x="144.5" y="425" font-size="6.3" fill="#111" text-anchor="middle" stroke="#111" stroke-width="0.12">12</text>
<text x="92.1" y="437.2" font-size="8.8" fill="#111" text-anchor="middle" textLength="85" lengthAdjust="spacingAndGlyphs" stroke="#111" stroke-width="0.22">Weeks after tamoxifen (TAM)</text>
<text x="38" y="345.2" font-size="6.3" fill="#e08c1c" textLength="25" lengthAdjust="spacingAndGlyphs" stroke="#e08c1c" stroke-width="0.12">TAM (5x)</text>
<line x1="39" y1="346.7" x2="39" y2="357" stroke="#e08c1c" stroke-width="1.1"/>
<path d="M36.6 356 L41.4 356 L39 360.5z" fill="#e08c1c"/>
<polyline points="39.5,379.83 48.25,363.8 57,368.38 65.75,369.53 74.5,358.85 83.25,364.57 92,359.99 100.75,369.15 109.5,363.04 118.25,364.95 127,363.04 135.75,370.67 144.5,362.28" fill="none" stroke="#6aab3c" stroke-width="1.1"/>
<line x1="39.5" y1="378.33" x2="39.5" y2="381.33" stroke="#6aab3c" stroke-width="1"/>
<line x1="37.4" y1="378.33" x2="41.6" y2="378.33" stroke="#6aab3c" stroke-width="1"/>
<line x1="37.4" y1="381.33" x2="41.6" y2="381.33" stroke="#6aab3c" stroke-width="1"/>
<rect x="37.1" y="377.43" width="4.8" height="4.8" fill="#6aab3c"/>
<line x1="48.25" y1="361.8" x2="48.25" y2="365.8" stroke="#6aab3c" stroke-width="1"/>
<line x1="46.15" y1="361.8" x2="50.35" y2="361.8" stroke="#6aab3c" stroke-width="1"/>
<line x1="46.15" y1="365.8" x2="50.35" y2="365.8" stroke="#6aab3c" stroke-width="1"/>
<circle cx="48.25" cy="363.8" r="2.4" fill="#6aab3c"/>
<line x1="57" y1="366.88" x2="57" y2="369.88" stroke="#6aab3c" stroke-width="1"/>
<line x1="54.9" y1="366.88" x2="59.1" y2="366.88" stroke="#6aab3c" stroke-width="1"/>
<line x1="54.9" y1="369.88" x2="59.1" y2="369.88" stroke="#6aab3c" stroke-width="1"/>
<circle cx="57" cy="368.38" r="2.4" fill="#6aab3c"/>
<line x1="65.75" y1="368.53" x2="65.75" y2="370.53" stroke="#6aab3c" stroke-width="1"/>
<line x1="63.65" y1="368.53" x2="67.85" y2="368.53" stroke="#6aab3c" stroke-width="1"/>
<line x1="63.65" y1="370.53" x2="67.85" y2="370.53" stroke="#6aab3c" stroke-width="1"/>
<circle cx="65.75" cy="369.53" r="2.4" fill="#6aab3c"/>
<line x1="74.5" y1="357.35" x2="74.5" y2="360.35" stroke="#6aab3c" stroke-width="1"/>
<line x1="72.4" y1="357.35" x2="76.6" y2="357.35" stroke="#6aab3c" stroke-width="1"/>
<line x1="72.4" y1="360.35" x2="76.6" y2="360.35" stroke="#6aab3c" stroke-width="1"/>
<rect x="72.1" y="356.45" width="4.8" height="4.8" fill="#6aab3c"/>
<line x1="83.25" y1="361.57" x2="83.25" y2="367.57" stroke="#6aab3c" stroke-width="1"/>
<line x1="81.15" y1="361.57" x2="85.35" y2="361.57" stroke="#6aab3c" stroke-width="1"/>
<line x1="81.15" y1="367.57" x2="85.35" y2="367.57" stroke="#6aab3c" stroke-width="1"/>
<circle cx="83.25" cy="364.57" r="2.4" fill="#6aab3c"/>
<line x1="92" y1="356.99" x2="92" y2="362.99" stroke="#6aab3c" stroke-width="1"/>
<line x1="89.9" y1="356.99" x2="94.1" y2="356.99" stroke="#6aab3c" stroke-width="1"/>
<line x1="89.9" y1="362.99" x2="94.1" y2="362.99" stroke="#6aab3c" stroke-width="1"/>
<circle cx="92" cy="359.99" r="2.4" fill="#6aab3c"/>
<line x1="100.75" y1="367.65" x2="100.75" y2="370.65" stroke="#6aab3c" stroke-width="1"/>
<line x1="98.65" y1="367.65" x2="102.85" y2="367.65" stroke="#6aab3c" stroke-width="1"/>
<line x1="98.65" y1="370.65" x2="102.85" y2="370.65" stroke="#6aab3c" stroke-width="1"/>
<rect x="98.35" y="366.75" width="4.8" height="4.8" fill="#6aab3c"/>
<line x1="109.5" y1="361.04" x2="109.5" y2="365.04" stroke="#6aab3c" stroke-width="1"/>
<line x1="107.4" y1="361.04" x2="111.6" y2="361.04" stroke="#6aab3c" stroke-width="1"/>
<line x1="107.4" y1="365.04" x2="111.6" y2="365.04" stroke="#6aab3c" stroke-width="1"/>
<circle cx="109.5" cy="363.04" r="2.4" fill="#6aab3c"/>
<line x1="118.25" y1="361.95" x2="118.25" y2="367.95" stroke="#6aab3c" stroke-width="1"/>
<line x1="116.15" y1="361.95" x2="120.35" y2="361.95" stroke="#6aab3c" stroke-width="1"/>
<line x1="116.15" y1="367.95" x2="120.35" y2="367.95" stroke="#6aab3c" stroke-width="1"/>
<circle cx="118.25" cy="364.95" r="2.4" fill="#6aab3c"/>
<line x1="127" y1="361.04" x2="127" y2="365.04" stroke="#6aab3c" stroke-width="1"/>
<line x1="124.9" y1="361.04" x2="129.1" y2="361.04" stroke="#6aab3c" stroke-width="1"/>
<line x1="124.9" y1="365.04" x2="129.1" y2="365.04" stroke="#6aab3c" stroke-width="1"/>
<circle cx="127" cy="363.04" r="2.4" fill="#6aab3c"/>
<line x1="135.75" y1="369.67" x2="135.75" y2="371.67" stroke="#6aab3c" stroke-width="1"/>
<line x1="133.65" y1="369.67" x2="137.85" y2="369.67" stroke="#6aab3c" stroke-width="1"/>
<line x1="133.65" y1="371.67" x2="137.85" y2="371.67" stroke="#6aab3c" stroke-width="1"/>
<circle cx="135.75" cy="370.67" r="2.4" fill="#6aab3c"/>
<line x1="144.5" y1="359.78" x2="144.5" y2="364.78" stroke="#6aab3c" stroke-width="1"/>
<line x1="142.4" y1="359.78" x2="146.6" y2="359.78" stroke="#6aab3c" stroke-width="1"/>
<line x1="142.4" y1="364.78" x2="146.6" y2="364.78" stroke="#6aab3c" stroke-width="1"/>
<rect x="142.1" y="359.88" width="4.8" height="4.8" fill="#6aab3c"/>
<polyline points="39.5,374.49 48.25,363.8 57,372.58 65.75,376.39 74.5,371.82 83.25,376.78 92,374.49 100.75,375.63 109.5,378.68 118.25,375.63 127,380.21 135.75,392.42 144.5,389.37" fill="none" stroke="#2c4a8a" stroke-width="1.1"/>
<line x1="39.5" y1="372.99" x2="39.5" y2="375.99" stroke="#2c4a8a" stroke-width="1"/>
<line x1="37.4" y1="372.99" x2="41.6" y2="372.99" stroke="#2c4a8a" stroke-width="1"/>
<line x1="37.4" y1="375.99" x2="41.6" y2="375.99" stroke="#2c4a8a" stroke-width="1"/>
<rect x="37.1" y="372.09" width="4.8" height="4.8" fill="#2c4a8a"/>
<line x1="48.25" y1="361.8" x2="48.25" y2="365.8" stroke="#2c4a8a" stroke-width="1"/>
<line x1="46.15" y1="361.8" x2="50.35" y2="361.8" stroke="#2c4a8a" stroke-width="1"/>
<line x1="46.15" y1="365.8" x2="50.35" y2="365.8" stroke="#2c4a8a" stroke-width="1"/>
<circle cx="48.25" cy="363.8" r="2.4" fill="#2c4a8a"/>
<line x1="57" y1="369.58" x2="57" y2="375.58" stroke="#2c4a8a" stroke-width="1"/>
<line x1="54.9" y1="369.58" x2="59.1" y2="369.58" stroke="#2c4a8a" stroke-width="1"/>
<line x1="54.9" y1="375.58" x2="59.1" y2="375.58" stroke="#2c4a8a" stroke-width="1"/>
<circle cx="57" cy="372.58" r="2.4" fill="#2c4a8a"/>
<line x1="65.75" y1="374.39" x2="65.75" y2="378.39" stroke="#2c4a8a" stroke-width="1"/>
<line x1="63.65" y1="374.39" x2="67.85" y2="374.39" stroke="#2c4a8a" stroke-width="1"/>
<line x1="63.65" y1="378.39" x2="67.85" y2="378.39" stroke="#2c4a8a" stroke-width="1"/>
<rect x="63.35" y="373.99" width="4.8" height="4.8" fill="#2c4a8a"/>
<line x1="74.5" y1="368.82" x2="74.5" y2="374.82" stroke="#2c4a8a" stroke-width="1"/>
<line x1="72.4" y1="368.82" x2="76.6" y2="368.82" stroke="#2c4a8a" stroke-width="1"/>
<line x1="72.4" y1="374.82" x2="76.6" y2="374.82" stroke="#2c4a8a" stroke-width="1"/>
<circle cx="74.5" cy="371.82" r="2.4" fill="#2c4a8a"/>
<line x1="83.25" y1="373.78" x2="83.25" y2="379.78" stroke="#2c4a8a" stroke-width="1"/>
<line x1="81.15" y1="373.78" x2="85.35" y2="373.78" stroke="#2c4a8a" stroke-width="1"/>
<line x1="81.15" y1="379.78" x2="85.35" y2="379.78" stroke="#2c4a8a" stroke-width="1"/>
<circle cx="83.25" cy="376.78" r="2.4" fill="#2c4a8a"/>
<line x1="92" y1="372.49" x2="92" y2="376.49" stroke="#2c4a8a" stroke-width="1"/>
<line x1="89.9" y1="372.49" x2="94.1" y2="372.49" stroke="#2c4a8a" stroke-width="1"/>
<line x1="89.9" y1="376.49" x2="94.1" y2="376.49" stroke="#2c4a8a" stroke-width="1"/>
<circle cx="92" cy="374.49" r="2.4" fill="#2c4a8a"/>
<line x1="100.75" y1="372.63" x2="100.75" y2="378.63" stroke="#2c4a8a" stroke-width="1"/>
<line x1="98.65" y1="372.63" x2="102.85" y2="372.63" stroke="#2c4a8a" stroke-width="1"/>
<line x1="98.65" y1="378.63" x2="102.85" y2="378.63" stroke="#2c4a8a" stroke-width="1"/>
<circle cx="100.75" cy="375.63" r="2.4" fill="#2c4a8a"/>
<line x1="109.5" y1="375.68" x2="109.5" y2="381.68" stroke="#2c4a8a" stroke-width="1"/>
<line x1="107.4" y1="375.68" x2="111.6" y2="375.68" stroke="#2c4a8a" stroke-width="1"/>
<line x1="107.4" y1="381.68" x2="111.6" y2="381.68" stroke="#2c4a8a" stroke-width="1"/>
<circle cx="109.5" cy="378.68" r="2.4" fill="#2c4a8a"/>
<line x1="118.25" y1="373.63" x2="118.25" y2="377.63" stroke="#2c4a8a" stroke-width="1"/>
<line x1="116.15" y1="373.63" x2="120.35" y2="373.63" stroke="#2c4a8a" stroke-width="1"/>
<line x1="116.15" y1="377.63" x2="120.35" y2="377.63" stroke="#2c4a8a" stroke-width="1"/>
<circle cx="118.25" cy="375.63" r="2.4" fill="#2c4a8a"/>
<line x1="127" y1="377.21" x2="127" y2="383.21" stroke="#2c4a8a" stroke-width="1"/>
<line x1="124.9" y1="377.21" x2="129.1" y2="377.21" stroke="#2c4a8a" stroke-width="1"/>
<line x1="124.9" y1="383.21" x2="129.1" y2="383.21" stroke="#2c4a8a" stroke-width="1"/>
<circle cx="127" cy="380.21" r="2.4" fill="#2c4a8a"/>
<line x1="135.75" y1="389.42" x2="135.75" y2="395.42" stroke="#2c4a8a" stroke-width="1"/>
<line x1="133.65" y1="389.42" x2="137.85" y2="389.42" stroke="#2c4a8a" stroke-width="1"/>
<line x1="133.65" y1="395.42" x2="137.85" y2="395.42" stroke="#2c4a8a" stroke-width="1"/>
<circle cx="135.75" cy="392.42" r="2.4" fill="#2c4a8a"/>
<line x1="144.5" y1="387.37" x2="144.5" y2="391.37" stroke="#2c4a8a" stroke-width="1"/>
<line x1="142.4" y1="387.37" x2="146.6" y2="387.37" stroke="#2c4a8a" stroke-width="1"/>
<line x1="142.4" y1="391.37" x2="146.6" y2="391.37" stroke="#2c4a8a" stroke-width="1"/>
<circle cx="144.5" cy="389.37" r="2.4" fill="#2c4a8a"/>
<polyline points="39.5,379.83 48.25,366.86 57,370.67 65.75,384.41 74.5,396.23 83.25,397 92,400.05 100.75,398.14 109.5,401.57 118.25,397.38" fill="none" stroke="#a8062c" stroke-width="1.1"/>
<line x1="39.5" y1="378.33" x2="39.5" y2="381.33" stroke="#a8062c" stroke-width="1"/>
<line x1="37.4" y1="378.33" x2="41.6" y2="378.33" stroke="#a8062c" stroke-width="1"/>
<line x1="37.4" y1="381.33" x2="41.6" y2="381.33" stroke="#a8062c" stroke-width="1"/>
<circle cx="39.5" cy="379.83" r="2.4" fill="#a8062c"/>
<line x1="48.25" y1="364.86" x2="48.25" y2="368.86" stroke="#a8062c" stroke-width="1"/>
<line x1="46.15" y1="364.86" x2="50.35" y2="364.86" stroke="#a8062c" stroke-width="1"/>
<line x1="46.15" y1="368.86" x2="50.35" y2="368.86" stroke="#a8062c" stroke-width="1"/>
<rect x="45.85" y="364.46" width="4.8" height="4.8" fill="#a8062c"/>
<line x1="57" y1="368.67" x2="57" y2="372.67" stroke="#a8062c" stroke-width="1"/>
<line x1="54.9" y1="368.67" x2="59.1" y2="368.67" stroke="#a8062c" stroke-width="1"/>
<line x1="54.9" y1="372.67" x2="59.1" y2="372.67" stroke="#a8062c" stroke-width="1"/>
<rect x="54.6" y="368.27" width="4.8" height="4.8" fill="#a8062c"/>
<line x1="65.75" y1="378.41" x2="65.75" y2="390.41" stroke="#a8062c" stroke-width="1"/>
<line x1="63.65" y1="378.41" x2="67.85" y2="378.41" stroke="#a8062c" stroke-width="1"/>
<line x1="63.65" y1="390.41" x2="67.85" y2="390.41" stroke="#a8062c" stroke-width="1"/>
<circle cx="65.75" cy="384.41" r="2.4" fill="#a8062c"/>
<line x1="74.5" y1="395.23" x2="74.5" y2="397.23" stroke="#a8062c" stroke-width="1"/>
<line x1="72.4" y1="395.23" x2="76.6" y2="395.23" stroke="#a8062c" stroke-width="1"/>
<line x1="72.4" y1="397.23" x2="76.6" y2="397.23" stroke="#a8062c" stroke-width="1"/>
<rect x="72.1" y="393.83" width="4.8" height="4.8" fill="#a8062c"/>
<line x1="83.25" y1="395" x2="83.25" y2="399" stroke="#a8062c" stroke-width="1"/>
<line x1="81.15" y1="395" x2="85.35" y2="395" stroke="#a8062c" stroke-width="1"/>
<line x1="81.15" y1="399" x2="85.35" y2="399" stroke="#a8062c" stroke-width="1"/>
<circle cx="83.25" cy="397" r="2.4" fill="#a8062c"/>
<line x1="92" y1="397.05" x2="92" y2="403.05" stroke="#a8062c" stroke-width="1"/>
<line x1="89.9" y1="397.05" x2="94.1" y2="397.05" stroke="#a8062c" stroke-width="1"/>
<line x1="89.9" y1="403.05" x2="94.1" y2="403.05" stroke="#a8062c" stroke-width="1"/>
<circle cx="92" cy="400.05" r="2.4" fill="#a8062c"/>
<line x1="100.75" y1="396.14" x2="100.75" y2="400.14" stroke="#a8062c" stroke-width="1"/>
<line x1="98.65" y1="396.14" x2="102.85" y2="396.14" stroke="#a8062c" stroke-width="1"/>
<line x1="98.65" y1="400.14" x2="102.85" y2="400.14" stroke="#a8062c" stroke-width="1"/>
<circle cx="100.75" cy="398.14" r="2.4" fill="#a8062c"/>
<line x1="109.5" y1="400.57" x2="109.5" y2="402.57" stroke="#a8062c" stroke-width="1"/>
<line x1="107.4" y1="400.57" x2="111.6" y2="400.57" stroke="#a8062c" stroke-width="1"/>
<line x1="107.4" y1="402.57" x2="111.6" y2="402.57" stroke="#a8062c" stroke-width="1"/>
<circle cx="109.5" cy="401.57" r="2.4" fill="#a8062c"/>
<line x1="118.25" y1="394.38" x2="118.25" y2="400.38" stroke="#a8062c" stroke-width="1"/>
<line x1="116.15" y1="394.38" x2="120.35" y2="394.38" stroke="#a8062c" stroke-width="1"/>
<line x1="116.15" y1="400.38" x2="120.35" y2="400.38" stroke="#a8062c" stroke-width="1"/>
<circle cx="118.25" cy="397.38" r="2.4" fill="#a8062c"/>
<ellipse cx="124.6" cy="401.3" rx="1.1" ry="1.0" fill="#c42a52"/>
<ellipse cx="127.5" cy="401.3" rx="1.1" ry="1.0" fill="#c42a52"/>
<ellipse cx="130.4" cy="401.3" rx="1.1" ry="1.0" fill="#c42a52"/>
<ellipse cx="150.5" cy="389.6" rx="1.1" ry="1.0" fill="#3a58a4"/>
<text x="173.4" y="316.1" font-size="12" fill="#000" font-weight="bold">J</text>
<text x="198.2" y="325.6" font-size="9" fill="#111" textLength="104.6" lengthAdjust="spacingAndGlyphs" stroke="#111" stroke-width="0.22">Changes in body weight (g)</text>
<line x1="192.7" y1="331.1" x2="192.7" y2="414" stroke="#333" stroke-width="1.5"/>
<line x1="189.7" y1="413.45" x2="192.7" y2="413.45" stroke="#333" stroke-width="1.2"/>
<text x="187.2" y="415.72" font-size="6.3" fill="#111" text-anchor="end" stroke="#111" stroke-width="0.12">-2</text>
<line x1="189.7" y1="400" x2="192.7" y2="400" stroke="#333" stroke-width="1.2"/>
<text x="187.2" y="402.27" font-size="6.3" fill="#111" text-anchor="end" stroke="#111" stroke-width="0.12">0</text>
<line x1="189.7" y1="386.55" x2="192.7" y2="386.55" stroke="#333" stroke-width="1.2"/>
<text x="187.2" y="388.82" font-size="6.3" fill="#111" text-anchor="end" stroke="#111" stroke-width="0.12">2</text>
<line x1="189.7" y1="373.1" x2="192.7" y2="373.1" stroke="#333" stroke-width="1.2"/>
<text x="187.2" y="375.37" font-size="6.3" fill="#111" text-anchor="end" stroke="#111" stroke-width="0.12">4</text>
<line x1="189.7" y1="359.65" x2="192.7" y2="359.65" stroke="#333" stroke-width="1.2"/>
<text x="187.2" y="361.92" font-size="6.3" fill="#111" text-anchor="end" stroke="#111" stroke-width="0.12">6</text>
<line x1="189.7" y1="346.2" x2="192.7" y2="346.2" stroke="#333" stroke-width="1.2"/>
<text x="187.2" y="348.47" font-size="6.3" fill="#111" text-anchor="end" stroke="#111" stroke-width="0.12">8</text>
<line x1="189.7" y1="332.75" x2="192.7" y2="332.75" stroke="#333" stroke-width="1.2"/>
<text x="187.2" y="335.02" font-size="6.3" fill="#111" text-anchor="end" stroke="#111" stroke-width="0.12">10</text>
<line x1="192.7" y1="413.25" x2="308" y2="413.25" stroke="#333" stroke-width="1.5"/>
<line x1="193.5" y1="400" x2="307.5" y2="400" stroke="#111" stroke-width="1.3" stroke-dasharray="3 2"/>
<line x1="196.75" y1="413.25" x2="196.75" y2="416.3" stroke="#333" stroke-width="1.2"/>
<text x="196.75" y="425.5" font-size="6.3" fill="#111" text-anchor="middle" stroke="#111" stroke-width="0.12">0</text>
<line x1="205.67" y1="413.25" x2="205.67" y2="416.3" stroke="#333" stroke-width="1.2"/>
<line x1="214.59" y1="413.25" x2="214.59" y2="416.3" stroke="#333" stroke-width="1.2"/>
<text x="214.59" y="425.5" font-size="6.3" fill="#111" text-anchor="middle" stroke="#111" stroke-width="0.12">2</text>
<line x1="223.51" y1="413.25" x2="223.51" y2="416.3" stroke="#333" stroke-width="1.2"/>
<line x1="232.43" y1="413.25" x2="232.43" y2="416.3" stroke="#333" stroke-width="1.2"/>
<text x="232.43" y="425.5" font-size="6.3" fill="#111" text-anchor="middle" stroke="#111" stroke-width="0.12">4</text>
<line x1="241.35" y1="413.25" x2="241.35" y2="416.3" stroke="#333" stroke-width="1.2"/>
<line x1="250.27" y1="413.25" x2="250.27" y2="416.3" stroke="#333" stroke-width="1.2"/>
<text x="250.27" y="425.5" font-size="6.3" fill="#111" text-anchor="middle" stroke="#111" stroke-width="0.12">6</text>
<line x1="259.19" y1="413.25" x2="259.19" y2="416.3" stroke="#333" stroke-width="1.2"/>
<line x1="268.11" y1="413.25" x2="268.11" y2="416.3" stroke="#333" stroke-width="1.2"/>
<text x="268.11" y="425.5" font-size="6.3" fill="#111" text-anchor="middle" stroke="#111" stroke-width="0.12">8</text>
<line x1="277.03" y1="413.25" x2="277.03" y2="416.3" stroke="#333" stroke-width="1.2"/>
<line x1="285.95" y1="413.25" x2="285.95" y2="416.3" stroke="#333" stroke-width="1.2"/>
<text x="285.95" y="425.5" font-size="6.3" fill="#111" text-anchor="middle" stroke="#111" stroke-width="0.12">10</text>
<line x1="294.87" y1="413.25" x2="294.87" y2="416.3" stroke="#333" stroke-width="1.2"/>
<line x1="303.79" y1="413.25" x2="303.79" y2="416.3" stroke="#333" stroke-width="1.2"/>
<text x="303.79" y="425.5" font-size="6.3" fill="#111" text-anchor="middle" stroke="#111" stroke-width="0.12">12</text>
<text x="250.6" y="436" font-size="8.8" fill="#111" text-anchor="middle" textLength="84" lengthAdjust="spacingAndGlyphs" stroke="#111" stroke-width="0.22">Weeks after tamoxifen (TAM)</text>
<text x="196.7" y="349.3" font-size="6.3" fill="#e08c1c" textLength="25.4" lengthAdjust="spacingAndGlyphs" stroke="#e08c1c" stroke-width="0.12">TAM (5x)</text>
<line x1="197.9" y1="351" x2="197.9" y2="360.5" stroke="#e08c1c" stroke-width="1.1"/>
<path d="M195.5 359.5 L200.3 359.5 L197.9 364z" fill="#e08c1c"/>
<polyline points="196.75,400 205.67,399.33 214.59,400.34 223.51,393.75 232.43,386.21 241.35,386.21 250.27,376.26 259.19,373.23 268.11,367.99 277.03,362.47 285.95,358.71 294.87,352.45 303.79,349.97" fill="none" stroke="#6aab3c" stroke-width="1.1"/>
<circle cx="196.75" cy="400" r="2.4" fill="#6aab3c"/>
<line x1="205.67" y1="398.33" x2="205.67" y2="400.33" stroke="#6aab3c" stroke-width="1"/>
<line x1="203.57" y1="398.33" x2="207.77" y2="398.33" stroke="#6aab3c" stroke-width="1"/>
<line x1="203.57" y1="400.33" x2="207.77" y2="400.33" stroke="#6aab3c" stroke-width="1"/>
<circle cx="205.67" cy="399.33" r="2.4" fill="#6aab3c"/>
<line x1="214.59" y1="399.34" x2="214.59" y2="401.34" stroke="#6aab3c" stroke-width="1"/>
<line x1="212.49" y1="399.34" x2="216.69" y2="399.34" stroke="#6aab3c" stroke-width="1"/>
<line x1="212.49" y1="401.34" x2="216.69" y2="401.34" stroke="#6aab3c" stroke-width="1"/>
<circle cx="214.59" cy="400.34" r="2.4" fill="#6aab3c"/>
<line x1="223.51" y1="391.75" x2="223.51" y2="395.75" stroke="#6aab3c" stroke-width="1"/>
<line x1="221.41" y1="391.75" x2="225.61" y2="391.75" stroke="#6aab3c" stroke-width="1"/>
<line x1="221.41" y1="395.75" x2="225.61" y2="395.75" stroke="#6aab3c" stroke-width="1"/>
<circle cx="223.51" cy="393.75" r="2.4" fill="#6aab3c"/>
<line x1="232.43" y1="382.21" x2="232.43" y2="390.21" stroke="#6aab3c" stroke-width="1"/>
<line x1="230.33" y1="382.21" x2="234.53" y2="382.21" stroke="#6aab3c" stroke-width="1"/>
<line x1="230.33" y1="390.21" x2="234.53" y2="390.21" stroke="#6aab3c" stroke-width="1"/>
<circle cx="232.43" cy="386.21" r="2.4" fill="#6aab3c"/>
<line x1="241.35" y1="382.21" x2="241.35" y2="390.21" stroke="#6aab3c" stroke-width="1"/>
<line x1="239.25" y1="382.21" x2="243.45" y2="382.21" stroke="#6aab3c" stroke-width="1"/>
<line x1="239.25" y1="390.21" x2="243.45" y2="390.21" stroke="#6aab3c" stroke-width="1"/>
<circle cx="241.35" cy="386.21" r="2.4" fill="#6aab3c"/>
<line x1="250.27" y1="371.26" x2="250.27" y2="381.26" stroke="#6aab3c" stroke-width="1"/>
<line x1="248.17" y1="371.26" x2="252.37" y2="371.26" stroke="#6aab3c" stroke-width="1"/>
<line x1="248.17" y1="381.26" x2="252.37" y2="381.26" stroke="#6aab3c" stroke-width="1"/>
<circle cx="250.27" cy="376.26" r="2.4" fill="#6aab3c"/>
<line x1="259.19" y1="368.23" x2="259.19" y2="378.23" stroke="#6aab3c" stroke-width="1"/>
<line x1="257.09" y1="368.23" x2="261.29" y2="368.23" stroke="#6aab3c" stroke-width="1"/>
<line x1="257.09" y1="378.23" x2="261.29" y2="378.23" stroke="#6aab3c" stroke-width="1"/>
<circle cx="259.19" cy="373.23" r="2.4" fill="#6aab3c"/>
<line x1="268.11" y1="361.99" x2="268.11" y2="373.99" stroke="#6aab3c" stroke-width="1"/>
<line x1="266.01" y1="361.99" x2="270.21" y2="361.99" stroke="#6aab3c" stroke-width="1"/>
<line x1="266.01" y1="373.99" x2="270.21" y2="373.99" stroke="#6aab3c" stroke-width="1"/>
<circle cx="268.11" cy="367.99" r="2.4" fill="#6aab3c"/>
<line x1="277.03" y1="356.47" x2="277.03" y2="368.47" stroke="#6aab3c" stroke-width="1"/>
<line x1="274.93" y1="356.47" x2="279.13" y2="356.47" stroke="#6aab3c" stroke-width="1"/>
<line x1="274.93" y1="368.47" x2="279.13" y2="368.47" stroke="#6aab3c" stroke-width="1"/>
<circle cx="277.03" cy="362.47" r="2.4" fill="#6aab3c"/>
<line x1="285.95" y1="351.71" x2="285.95" y2="365.71" stroke="#6aab3c" stroke-width="1"/>
<line x1="283.85" y1="351.71" x2="288.05" y2="351.71" stroke="#6aab3c" stroke-width="1"/>
<line x1="283.85" y1="365.71" x2="288.05" y2="365.71" stroke="#6aab3c" stroke-width="1"/>
<circle cx="285.95" cy="358.71" r="2.4" fill="#6aab3c"/>
<line x1="294.87" y1="345.45" x2="294.87" y2="359.45" stroke="#6aab3c" stroke-width="1"/>
<line x1="292.77" y1="345.45" x2="296.97" y2="345.45" stroke="#6aab3c" stroke-width="1"/>
<line x1="292.77" y1="359.45" x2="296.97" y2="359.45" stroke="#6aab3c" stroke-width="1"/>
<circle cx="294.87" cy="352.45" r="2.4" fill="#6aab3c"/>
<line x1="303.79" y1="343.97" x2="303.79" y2="355.97" stroke="#6aab3c" stroke-width="1"/>
<line x1="301.69" y1="343.97" x2="305.89" y2="343.97" stroke="#6aab3c" stroke-width="1"/>
<line x1="301.69" y1="355.97" x2="305.89" y2="355.97" stroke="#6aab3c" stroke-width="1"/>
<circle cx="303.79" cy="349.97" r="2.4" fill="#6aab3c"/>
<polyline points="196.75,398.72 205.67,398.65 214.59,398.32 223.51,397.51 232.43,391.26 241.35,389.98 250.27,385 259.19,380.77 268.11,376.73 277.03,375.45 285.95,371.22 294.87,368.73 303.79,368.39" fill="none" stroke="#2c4a8a" stroke-width="1.1"/>
<line x1="196.75" y1="396.72" x2="196.75" y2="400.72" stroke="#2c4a8a" stroke-width="1"/>
<line x1="194.65" y1="396.72" x2="198.85" y2="396.72" stroke="#2c4a8a" stroke-width="1"/>
<line x1="194.65" y1="400.72" x2="198.85" y2="400.72" stroke="#2c4a8a" stroke-width="1"/>
<circle cx="196.75" cy="398.72" r="2.4" fill="#2c4a8a"/>
<line x1="205.67" y1="397.65" x2="205.67" y2="399.65" stroke="#2c4a8a" stroke-width="1"/>
<line x1="203.57" y1="397.65" x2="207.77" y2="397.65" stroke="#2c4a8a" stroke-width="1"/>
<line x1="203.57" y1="399.65" x2="207.77" y2="399.65" stroke="#2c4a8a" stroke-width="1"/>
<circle cx="205.67" cy="398.65" r="2.4" fill="#2c4a8a"/>
<line x1="214.59" y1="397.32" x2="214.59" y2="399.32" stroke="#2c4a8a" stroke-width="1"/>
<line x1="212.49" y1="397.32" x2="216.69" y2="397.32" stroke="#2c4a8a" stroke-width="1"/>
<line x1="212.49" y1="399.32" x2="216.69" y2="399.32" stroke="#2c4a8a" stroke-width="1"/>
<circle cx="214.59" cy="398.32" r="2.4" fill="#2c4a8a"/>
<line x1="223.51" y1="396.51" x2="223.51" y2="398.51" stroke="#2c4a8a" stroke-width="1"/>
<line x1="221.41" y1="396.51" x2="225.61" y2="396.51" stroke="#2c4a8a" stroke-width="1"/>
<line x1="221.41" y1="398.51" x2="225.61" y2="398.51" stroke="#2c4a8a" stroke-width="1"/>
<circle cx="223.51" cy="397.51" r="2.4" fill="#2c4a8a"/>
<line x1="232.43" y1="387.26" x2="232.43" y2="395.26" stroke="#2c4a8a" stroke-width="1"/>
<line x1="230.33" y1="387.26" x2="234.53" y2="387.26" stroke="#2c4a8a" stroke-width="1"/>
<line x1="230.33" y1="395.26" x2="234.53" y2="395.26" stroke="#2c4a8a" stroke-width="1"/>
<circle cx="232.43" cy="391.26" r="2.4" fill="#2c4a8a"/>
<line x1="241.35" y1="385.98" x2="241.35" y2="393.98" stroke="#2c4a8a" stroke-width="1"/>
<line x1="239.25" y1="385.98" x2="243.45" y2="385.98" stroke="#2c4a8a" stroke-width="1"/>
<line x1="239.25" y1="393.98" x2="243.45" y2="393.98" stroke="#2c4a8a" stroke-width="1"/>
<circle cx="241.35" cy="389.98" r="2.4" fill="#2c4a8a"/>
<line x1="250.27" y1="380" x2="250.27" y2="390" stroke="#2c4a8a" stroke-width="1"/>
<line x1="248.17" y1="380" x2="252.37" y2="380" stroke="#2c4a8a" stroke-width="1"/>
<line x1="248.17" y1="390" x2="252.37" y2="390" stroke="#2c4a8a" stroke-width="1"/>
<circle cx="250.27" cy="385" r="2.4" fill="#2c4a8a"/>
<line x1="259.19" y1="376.77" x2="259.19" y2="384.77" stroke="#2c4a8a" stroke-width="1"/>
<line x1="257.09" y1="376.77" x2="261.29" y2="376.77" stroke="#2c4a8a" stroke-width="1"/>
<line x1="257.09" y1="384.77" x2="261.29" y2="384.77" stroke="#2c4a8a" stroke-width="1"/>
<circle cx="259.19" cy="380.77" r="2.4" fill="#2c4a8a"/>
<line x1="268.11" y1="372.73" x2="268.11" y2="380.73" stroke="#2c4a8a" stroke-width="1"/>
<line x1="266.01" y1="372.73" x2="270.21" y2="372.73" stroke="#2c4a8a" stroke-width="1"/>
<line x1="266.01" y1="380.73" x2="270.21" y2="380.73" stroke="#2c4a8a" stroke-width="1"/>
<circle cx="268.11" cy="376.73" r="2.4" fill="#2c4a8a"/>
<line x1="277.03" y1="371.45" x2="277.03" y2="379.45" stroke="#2c4a8a" stroke-width="1"/>
<line x1="274.93" y1="371.45" x2="279.13" y2="371.45" stroke="#2c4a8a" stroke-width="1"/>
<line x1="274.93" y1="379.45" x2="279.13" y2="379.45" stroke="#2c4a8a" stroke-width="1"/>
<circle cx="277.03" cy="375.45" r="2.4" fill="#2c4a8a"/>
<line x1="285.95" y1="368.22" x2="285.95" y2="374.22" stroke="#2c4a8a" stroke-width="1"/>
<line x1="283.85" y1="368.22" x2="288.05" y2="368.22" stroke="#2c4a8a" stroke-width="1"/>
<line x1="283.85" y1="374.22" x2="288.05" y2="374.22" stroke="#2c4a8a" stroke-width="1"/>
<circle cx="285.95" cy="371.22" r="2.4" fill="#2c4a8a"/>
<line x1="294.87" y1="364.73" x2="294.87" y2="372.73" stroke="#2c4a8a" stroke-width="1"/>
<line x1="292.77" y1="364.73" x2="296.97" y2="364.73" stroke="#2c4a8a" stroke-width="1"/>
<line x1="292.77" y1="372.73" x2="296.97" y2="372.73" stroke="#2c4a8a" stroke-width="1"/>
<circle cx="294.87" cy="368.73" r="2.4" fill="#2c4a8a"/>
<line x1="303.79" y1="364.39" x2="303.79" y2="372.39" stroke="#2c4a8a" stroke-width="1"/>
<line x1="301.69" y1="364.39" x2="305.89" y2="364.39" stroke="#2c4a8a" stroke-width="1"/>
<line x1="301.69" y1="372.39" x2="305.89" y2="372.39" stroke="#2c4a8a" stroke-width="1"/>
<circle cx="303.79" cy="368.39" r="2.4" fill="#2c4a8a"/>
<polyline points="196.75,403.77 205.67,399.33 214.59,398.65 223.51,396.97 232.43,394.49 241.35,389.98 250.27,386.21 259.19,383.73 268.11,383.25" fill="none" stroke="#a8062c" stroke-width="1.1"/>
<line x1="196.75" y1="400.77" x2="196.75" y2="406.77" stroke="#a8062c" stroke-width="1"/>
<line x1="194.65" y1="400.77" x2="198.85" y2="400.77" stroke="#a8062c" stroke-width="1"/>
<line x1="194.65" y1="406.77" x2="198.85" y2="406.77" stroke="#a8062c" stroke-width="1"/>
<circle cx="196.75" cy="403.77" r="2.4" fill="#a8062c"/>
<line x1="205.67" y1="398.33" x2="205.67" y2="400.33" stroke="#a8062c" stroke-width="1"/>
<line x1="203.57" y1="398.33" x2="207.77" y2="398.33" stroke="#a8062c" stroke-width="1"/>
<line x1="203.57" y1="400.33" x2="207.77" y2="400.33" stroke="#a8062c" stroke-width="1"/>
<circle cx="205.67" cy="399.33" r="2.4" fill="#a8062c"/>
<line x1="214.59" y1="397.65" x2="214.59" y2="399.65" stroke="#a8062c" stroke-width="1"/>
<line x1="212.49" y1="397.65" x2="216.69" y2="397.65" stroke="#a8062c" stroke-width="1"/>
<line x1="212.49" y1="399.65" x2="216.69" y2="399.65" stroke="#a8062c" stroke-width="1"/>
<circle cx="214.59" cy="398.65" r="2.4" fill="#a8062c"/>
<line x1="223.51" y1="394.97" x2="223.51" y2="398.97" stroke="#a8062c" stroke-width="1"/>
<line x1="221.41" y1="394.97" x2="225.61" y2="394.97" stroke="#a8062c" stroke-width="1"/>
<line x1="221.41" y1="398.97" x2="225.61" y2="398.97" stroke="#a8062c" stroke-width="1"/>
<circle cx="223.51" cy="396.97" r="2.4" fill="#a8062c"/>
<line x1="232.43" y1="392.49" x2="232.43" y2="396.49" stroke="#a8062c" stroke-width="1"/>
<line x1="230.33" y1="392.49" x2="234.53" y2="392.49" stroke="#a8062c" stroke-width="1"/>
<line x1="230.33" y1="396.49" x2="234.53" y2="396.49" stroke="#a8062c" stroke-width="1"/>
<circle cx="232.43" cy="394.49" r="2.4" fill="#a8062c"/>
<line x1="241.35" y1="385.98" x2="241.35" y2="393.98" stroke="#a8062c" stroke-width="1"/>
<line x1="239.25" y1="385.98" x2="243.45" y2="385.98" stroke="#a8062c" stroke-width="1"/>
<line x1="239.25" y1="393.98" x2="243.45" y2="393.98" stroke="#a8062c" stroke-width="1"/>
<circle cx="241.35" cy="389.98" r="2.4" fill="#a8062c"/>
<line x1="250.27" y1="381.21" x2="250.27" y2="391.21" stroke="#a8062c" stroke-width="1"/>
<line x1="248.17" y1="381.21" x2="252.37" y2="381.21" stroke="#a8062c" stroke-width="1"/>
<line x1="248.17" y1="391.21" x2="252.37" y2="391.21" stroke="#a8062c" stroke-width="1"/>
<circle cx="250.27" cy="386.21" r="2.4" fill="#a8062c"/>
<line x1="259.19" y1="378.73" x2="259.19" y2="388.73" stroke="#a8062c" stroke-width="1"/>
<line x1="257.09" y1="378.73" x2="261.29" y2="378.73" stroke="#a8062c" stroke-width="1"/>
<line x1="257.09" y1="388.73" x2="261.29" y2="388.73" stroke="#a8062c" stroke-width="1"/>
<circle cx="259.19" cy="383.73" r="2.4" fill="#a8062c"/>
<line x1="268.11" y1="379.25" x2="268.11" y2="387.25" stroke="#a8062c" stroke-width="1"/>
<line x1="266.01" y1="379.25" x2="270.21" y2="379.25" stroke="#a8062c" stroke-width="1"/>
<line x1="266.01" y1="387.25" x2="270.21" y2="387.25" stroke="#a8062c" stroke-width="1"/>
<circle cx="268.11" cy="383.25" r="2.4" fill="#a8062c"/>
<ellipse cx="257.85" cy="359.7" rx="1.1" ry="1.0" fill="#c42a52"/>
<ellipse cx="260.75" cy="359.7" rx="1.1" ry="1.0" fill="#c42a52"/>
<ellipse cx="284.35" cy="347.2" rx="1.1" ry="1.0" fill="#3a58a4"/>
<ellipse cx="287.25" cy="347.2" rx="1.1" ry="1.0" fill="#3a58a4"/>
<ellipse cx="292.85" cy="340.7" rx="1.1" ry="1.0" fill="#3a58a4"/>
<ellipse cx="295.75" cy="340.7" rx="1.1" ry="1.0" fill="#3a58a4"/>
<ellipse cx="301.85" cy="337.7" rx="1.1" ry="1.0" fill="#3a58a4"/>
<ellipse cx="304.75" cy="337.7" rx="1.1" ry="1.0" fill="#3a58a4"/>
<text x="330.6" y="316.1" font-size="12" fill="#000" font-weight="bold">K</text>
<text x="373.1" y="325.8" font-size="9" fill="#111" textLength="85.7" lengthAdjust="spacingAndGlyphs" stroke="#111" stroke-width="0.22">Glucose tolerance test</text>
<line x1="359.8" y1="331.1" x2="359.8" y2="413.95" stroke="#333" stroke-width="1.5"/>
<line x1="356.8" y1="413.2" x2="359.8" y2="413.2" stroke="#333" stroke-width="1.2"/>
<text x="354.3" y="415.47" font-size="6.3" fill="#111" text-anchor="end" stroke="#111" stroke-width="0.12">0</text>
<line x1="356.8" y1="393.2" x2="359.8" y2="393.2" stroke="#333" stroke-width="1.2"/>
<text x="354.3" y="395.47" font-size="6.3" fill="#111" text-anchor="end" stroke="#111" stroke-width="0.12">1</text>
<line x1="356.8" y1="373.2" x2="359.8" y2="373.2" stroke="#333" stroke-width="1.2"/>
<text x="354.3" y="375.47" font-size="6.3" fill="#111" text-anchor="end" stroke="#111" stroke-width="0.12">2</text>
<line x1="356.8" y1="353.2" x2="359.8" y2="353.2" stroke="#333" stroke-width="1.2"/>
<text x="354.3" y="355.47" font-size="6.3" fill="#111" text-anchor="end" stroke="#111" stroke-width="0.12">3</text>
<line x1="356.8" y1="333.2" x2="359.8" y2="333.2" stroke="#333" stroke-width="1.2"/>
<text x="354.3" y="335.47" font-size="6.3" fill="#111" text-anchor="end" stroke="#111" stroke-width="0.12">4</text>
<line x1="357.7" y1="403.2" x2="359.8" y2="403.2" stroke="#333" stroke-width="0.8"/>
<line x1="357.7" y1="383.2" x2="359.8" y2="383.2" stroke="#333" stroke-width="0.8"/>
<line x1="357.7" y1="363.2" x2="359.8" y2="363.2" stroke="#333" stroke-width="0.8"/>
<line x1="357.7" y1="343.2" x2="359.8" y2="343.2" stroke="#333" stroke-width="0.8"/>
<line x1="359.8" y1="413.2" x2="471.9" y2="413.2" stroke="#333" stroke-width="1.5"/>
<line x1="369.1" y1="413.2" x2="369.1" y2="415.8" stroke="#333" stroke-width="0.9"/>
<text x="369.1" y="425" font-size="6.3" fill="#111" text-anchor="middle" stroke="#111" stroke-width="0.12">0</text>
<line x1="388.2" y1="413.2" x2="388.2" y2="415.8" stroke="#333" stroke-width="0.9"/>
<text x="388.2" y="425" font-size="6.3" fill="#111" text-anchor="middle" stroke="#111" stroke-width="0.12">15</text>
<line x1="407.5" y1="413.2" x2="407.5" y2="415.8" stroke="#333" stroke-width="0.9"/>
<text x="407.5" y="425" font-size="6.3" fill="#111" text-anchor="middle" stroke="#111" stroke-width="0.12">30</text>
<line x1="426.9" y1="413.2" x2="426.9" y2="415.8" stroke="#333" stroke-width="0.9"/>
<text x="426.9" y="425" font-size="6.3" fill="#111" text-anchor="middle" stroke="#111" stroke-width="0.12">60</text>
<line x1="446" y1="413.2" x2="446" y2="415.8" stroke="#333" stroke-width="0.9"/>
<text x="446" y="425" font-size="6.3" fill="#111" text-anchor="middle" stroke="#111" stroke-width="0.12">90</text>
<line x1="464.3" y1="413.2" x2="464.3" y2="415.8" stroke="#333" stroke-width="0.9"/>
<text x="464.3" y="425" font-size="6.3" fill="#111" text-anchor="middle" stroke="#111" stroke-width="0.12">120</text>
<text x="416" y="435.8" font-size="8" fill="#111" text-anchor="middle" textLength="33" lengthAdjust="spacingAndGlyphs" stroke="#111" stroke-width="0.22">Time (min)</text>
<text x="345" y="371.7" font-size="8.8" fill="#111" text-anchor="middle" transform="rotate(-90 345 371.7)" textLength="56" lengthAdjust="spacingAndGlyphs" stroke="#111" stroke-width="0.22">Blood glucose (g/L)</text>
<line x1="369.1" y1="430" x2="369.1" y2="437" stroke="#111" stroke-width="0.8"/>
<path d="M367.3 430.8 L370.9 430.8 L369.1 427.6z" fill="#111"/>
<text x="369.3" y="444.3" font-size="6.6" fill="#111" text-anchor="middle" textLength="23.4" lengthAdjust="spacingAndGlyphs" stroke="#111" stroke-width="0.12">Glucose</text>
<polyline points="369.1,390 388.2,356.4 407.5,356 426.9,374.4 446,382.4 464.3,387" fill="none" stroke="#6aab3c" stroke-width="1.1"/>
<circle cx="369.1" cy="390" r="2.4" fill="#6aab3c"/>
<line x1="388.2" y1="353.4" x2="388.2" y2="359.4" stroke="#6aab3c" stroke-width="1"/>
<line x1="386.1" y1="353.4" x2="390.3" y2="353.4" stroke="#6aab3c" stroke-width="1"/>
<line x1="386.1" y1="359.4" x2="390.3" y2="359.4" stroke="#6aab3c" stroke-width="1"/>
<circle cx="388.2" cy="356.4" r="2.4" fill="#6aab3c"/>
<line x1="407.5" y1="353" x2="407.5" y2="359" stroke="#6aab3c" stroke-width="1"/>
<line x1="405.4" y1="353" x2="409.6" y2="353" stroke="#6aab3c" stroke-width="1"/>
<line x1="405.4" y1="359" x2="409.6" y2="359" stroke="#6aab3c" stroke-width="1"/>
<circle cx="407.5" cy="356" r="2.4" fill="#6aab3c"/>
<line x1="426.9" y1="372.4" x2="426.9" y2="376.4" stroke="#6aab3c" stroke-width="1"/>
<line x1="424.8" y1="372.4" x2="429" y2="372.4" stroke="#6aab3c" stroke-width="1"/>
<line x1="424.8" y1="376.4" x2="429" y2="376.4" stroke="#6aab3c" stroke-width="1"/>
<circle cx="426.9" cy="374.4" r="2.4" fill="#6aab3c"/>
<line x1="446" y1="380.9" x2="446" y2="383.9" stroke="#6aab3c" stroke-width="1"/>
<line x1="443.9" y1="380.9" x2="448.1" y2="380.9" stroke="#6aab3c" stroke-width="1"/>
<line x1="443.9" y1="383.9" x2="448.1" y2="383.9" stroke="#6aab3c" stroke-width="1"/>
<circle cx="446" cy="382.4" r="2.4" fill="#6aab3c"/>
<line x1="464.3" y1="385.5" x2="464.3" y2="388.5" stroke="#6aab3c" stroke-width="1"/>
<line x1="462.2" y1="385.5" x2="466.4" y2="385.5" stroke="#6aab3c" stroke-width="1"/>
<line x1="462.2" y1="388.5" x2="466.4" y2="388.5" stroke="#6aab3c" stroke-width="1"/>
<circle cx="464.3" cy="387" r="2.4" fill="#6aab3c"/>
<polyline points="369.1,398 388.2,379.6 407.5,388.2 426.9,395.2 446,399.2 464.3,401" fill="none" stroke="#2c4a8a" stroke-width="1.1"/>
<circle cx="369.1" cy="398" r="2.4" fill="#2c4a8a"/>
<circle cx="388.2" cy="379.6" r="2.4" fill="#2c4a8a"/>
<circle cx="407.5" cy="388.2" r="2.4" fill="#2c4a8a"/>
<circle cx="426.9" cy="395.2" r="2.4" fill="#2c4a8a"/>
<circle cx="446" cy="399.2" r="2.4" fill="#2c4a8a"/>
<circle cx="464.3" cy="401" r="2.4" fill="#2c4a8a"/>
<polyline points="369.1,407.2 388.2,401.4 407.5,402.8 426.9,406.2 446,407.2 464.3,408.2" fill="none" stroke="#a8062c" stroke-width="1.1"/>
<rect x="366.7" y="404.8" width="4.8" height="4.8" fill="#a8062c"/>
<line x1="388.2" y1="397.4" x2="388.2" y2="405.4" stroke="#a8062c" stroke-width="1"/>
<line x1="386.1" y1="397.4" x2="390.3" y2="397.4" stroke="#a8062c" stroke-width="1"/>
<line x1="386.1" y1="405.4" x2="390.3" y2="405.4" stroke="#a8062c" stroke-width="1"/>
<rect x="385.8" y="399" width="4.8" height="4.8" fill="#a8062c"/>
<line x1="407.5" y1="398.8" x2="407.5" y2="406.8" stroke="#a8062c" stroke-width="1"/>
<line x1="405.4" y1="398.8" x2="409.6" y2="398.8" stroke="#a8062c" stroke-width="1"/>
<line x1="405.4" y1="406.8" x2="409.6" y2="406.8" stroke="#a8062c" stroke-width="1"/>
<rect x="405.1" y="400.4" width="4.8" height="4.8" fill="#a8062c"/>
<line x1="426.9" y1="404.7" x2="426.9" y2="407.7" stroke="#a8062c" stroke-width="1"/>
<line x1="424.8" y1="404.7" x2="429" y2="404.7" stroke="#a8062c" stroke-width="1"/>
<line x1="424.8" y1="407.7" x2="429" y2="407.7" stroke="#a8062c" stroke-width="1"/>
<rect x="424.5" y="403.8" width="4.8" height="4.8" fill="#a8062c"/>
<line x1="446" y1="405.7" x2="446" y2="408.7" stroke="#a8062c" stroke-width="1"/>
<line x1="443.9" y1="405.7" x2="448.1" y2="405.7" stroke="#a8062c" stroke-width="1"/>
<line x1="443.9" y1="408.7" x2="448.1" y2="408.7" stroke="#a8062c" stroke-width="1"/>
<rect x="443.6" y="404.8" width="4.8" height="4.8" fill="#a8062c"/>
<line x1="464.3" y1="407.2" x2="464.3" y2="409.2" stroke="#a8062c" stroke-width="1"/>
<line x1="462.2" y1="407.2" x2="466.4" y2="407.2" stroke="#a8062c" stroke-width="1"/>
<line x1="462.2" y1="409.2" x2="466.4" y2="409.2" stroke="#a8062c" stroke-width="1"/>
<rect x="461.9" y="405.8" width="4.8" height="4.8" fill="#a8062c"/>
<ellipse cx="366.2" cy="372.7" rx="1.1" ry="1.0" fill="#c42a52"/>
<ellipse cx="369.1" cy="372.7" rx="1.1" ry="1.0" fill="#c42a52"/>
<ellipse cx="372" cy="372.7" rx="1.1" ry="1.0" fill="#c42a52"/>
<ellipse cx="366.2" cy="377.9" rx="1.1" ry="1.0" fill="#3a58a4"/>
<ellipse cx="369.1" cy="377.9" rx="1.1" ry="1.0" fill="#3a58a4"/>
<ellipse cx="372" cy="377.9" rx="1.1" ry="1.0" fill="#3a58a4"/>
<ellipse cx="385.3" cy="340.8" rx="1.1" ry="1.0" fill="#c42a52"/>
<ellipse cx="388.2" cy="340.8" rx="1.1" ry="1.0" fill="#c42a52"/>
<ellipse cx="391.1" cy="340.8" rx="1.1" ry="1.0" fill="#c42a52"/>
<ellipse cx="385.3" cy="346" rx="1.1" ry="1.0" fill="#3a58a4"/>
<ellipse cx="388.2" cy="346" rx="1.1" ry="1.0" fill="#3a58a4"/>
<ellipse cx="391.1" cy="346" rx="1.1" ry="1.0" fill="#3a58a4"/>
<ellipse cx="404.6" cy="339.8" rx="1.1" ry="1.0" fill="#c42a52"/>
<ellipse cx="407.5" cy="339.8" rx="1.1" ry="1.0" fill="#c42a52"/>
<ellipse cx="410.4" cy="339.8" rx="1.1" ry="1.0" fill="#c42a52"/>
<ellipse cx="404.6" cy="345" rx="1.1" ry="1.0" fill="#3a58a4"/>
<ellipse cx="407.5" cy="345" rx="1.1" ry="1.0" fill="#3a58a4"/>
<ellipse cx="410.4" cy="345" rx="1.1" ry="1.0" fill="#3a58a4"/>
<ellipse cx="424" cy="357.8" rx="1.1" ry="1.0" fill="#c42a52"/>
<ellipse cx="426.9" cy="357.8" rx="1.1" ry="1.0" fill="#c42a52"/>
<ellipse cx="429.8" cy="357.8" rx="1.1" ry="1.0" fill="#c42a52"/>
<ellipse cx="424" cy="363.3" rx="1.1" ry="1.0" fill="#3a58a4"/>
<ellipse cx="426.9" cy="363.3" rx="1.1" ry="1.0" fill="#3a58a4"/>
<ellipse cx="429.8" cy="363.3" rx="1.1" ry="1.0" fill="#3a58a4"/>
<ellipse cx="443.1" cy="367.5" rx="1.1" ry="1.0" fill="#c42a52"/>
<ellipse cx="446" cy="367.5" rx="1.1" ry="1.0" fill="#c42a52"/>
<ellipse cx="448.9" cy="367.5" rx="1.1" ry="1.0" fill="#c42a52"/>
<ellipse cx="443.1" cy="372.7" rx="1.1" ry="1.0" fill="#3a58a4"/>
<ellipse cx="446" cy="372.7" rx="1.1" ry="1.0" fill="#3a58a4"/>
<ellipse cx="448.9" cy="372.7" rx="1.1" ry="1.0" fill="#3a58a4"/>
<ellipse cx="461.4" cy="371" rx="1.1" ry="1.0" fill="#c42a52"/>
<ellipse cx="464.3" cy="371" rx="1.1" ry="1.0" fill="#c42a52"/>
<ellipse cx="467.2" cy="371" rx="1.1" ry="1.0" fill="#c42a52"/>
<ellipse cx="461.4" cy="376.1" rx="1.1" ry="1.0" fill="#3a58a4"/>
<ellipse cx="464.3" cy="376.1" rx="1.1" ry="1.0" fill="#3a58a4"/>
<ellipse cx="467.2" cy="376.1" rx="1.1" ry="1.0" fill="#3a58a4"/>
<text x="8.2" y="465.6" font-size="12" fill="#000" font-weight="bold">L</text>
<text x="14.7" y="474.2" font-size="9" fill="#111" textLength="142" lengthAdjust="spacingAndGlyphs" stroke="#111" stroke-width="0.22">Ruxolitinib treatment (90 mg/ kg day)</text>
<text x="41.5" y="488.6" font-size="6.8" fill="#111" textLength="88" lengthAdjust="spacingAndGlyphs" stroke="#111" stroke-width="0.12">non-fasting glucose levels (g/L)</text>
<line x1="34.6" y1="505" x2="34.6" y2="586.95" stroke="#333" stroke-width="1.5"/>
<line x1="31.6" y1="586.2" x2="34.6" y2="586.2" stroke="#333" stroke-width="1.2"/>
<text x="29.1" y="588.47" font-size="6.3" fill="#111" text-anchor="end" stroke="#111" stroke-width="0.12">0.0</text>
<line x1="31.6" y1="566.5" x2="34.6" y2="566.5" stroke="#333" stroke-width="1.2"/>
<text x="29.1" y="568.77" font-size="6.3" fill="#111" text-anchor="end" stroke="#111" stroke-width="0.12">0.5</text>
<line x1="31.6" y1="546.8" x2="34.6" y2="546.8" stroke="#333" stroke-width="1.2"/>
<text x="29.1" y="549.07" font-size="6.3" fill="#111" text-anchor="end" stroke="#111" stroke-width="0.12">1.0</text>
<line x1="31.6" y1="527.1" x2="34.6" y2="527.1" stroke="#333" stroke-width="1.2"/>
<text x="29.1" y="529.37" font-size="6.3" fill="#111" text-anchor="end" stroke="#111" stroke-width="0.12">1.5</text>
<line x1="31.6" y1="507.4" x2="34.6" y2="507.4" stroke="#333" stroke-width="1.2"/>
<text x="29.1" y="509.67" font-size="6.3" fill="#111" text-anchor="end" stroke="#111" stroke-width="0.12">2.0</text>
<line x1="34.6" y1="586.2" x2="135.7" y2="586.2" stroke="#333" stroke-width="1.5"/>
<line x1="47.8" y1="586.2" x2="47.8" y2="588.8" stroke="#333" stroke-width="0.9"/>
<text x="47.8" y="598" font-size="6.3" fill="#111" text-anchor="middle" stroke="#111" stroke-width="0.12">0</text>
<line x1="68.05" y1="586.2" x2="68.05" y2="588.8" stroke="#333" stroke-width="0.9"/>
<text x="68.05" y="598" font-size="6.3" fill="#111" text-anchor="middle" stroke="#111" stroke-width="0.12">1</text>
<line x1="88.3" y1="586.2" x2="88.3" y2="588.8" stroke="#333" stroke-width="0.9"/>
<text x="88.3" y="598" font-size="6.3" fill="#111" text-anchor="middle" stroke="#111" stroke-width="0.12">2</text>
<line x1="108.55" y1="586.2" x2="108.55" y2="588.8" stroke="#333" stroke-width="0.9"/>
<text x="108.55" y="598" font-size="6.3" fill="#111" text-anchor="middle" stroke="#111" stroke-width="0.12">3</text>
<line x1="128.8" y1="586.2" x2="128.8" y2="588.8" stroke="#333" stroke-width="0.9"/>
<text x="128.8" y="598" font-size="6.3" fill="#111" text-anchor="middle" stroke="#111" stroke-width="0.12">4</text>
<text x="85.5" y="609.5" font-size="8.4" fill="#111" text-anchor="middle" textLength="21" lengthAdjust="spacingAndGlyphs" stroke="#111" stroke-width="0.22">Weeks</text>
<text x="121.1" y="510.5" font-size="6.2" fill="#111" text-anchor="end" textLength="30" lengthAdjust="spacingAndGlyphs" stroke="#111" stroke-width="0.12">Ruxolitinib</text>
<line x1="123.9" y1="508.3" x2="137.8" y2="508.3" stroke="#a8062c" stroke-width="1" stroke-dasharray="2.6 1.6"/>
<text x="121.1" y="520.6" font-size="6.2" fill="#111" text-anchor="end" textLength="20" lengthAdjust="spacingAndGlyphs" stroke="#111" stroke-width="0.12">vehicle</text>
<line x1="123.9" y1="518.4" x2="137.8" y2="518.4" stroke="#a8062c" stroke-width="1"/>
<text x="43.3" y="527" font-size="6.6" fill="#6aab3c" font-style="italic" stroke="#6aab3c" stroke-width="0.12">WT</text>
<text x="43.3" y="568.5" font-size="6.6" fill="#a8062c" font-style="italic" stroke="#a8062c" stroke-width="0.12">E12</text>
<polyline points="47.8,538.53 68.05,537.74 88.3,533.4 108.55,537.74 128.8,536.56" fill="none" stroke="#6aab3c" stroke-width="1.1"/>
<line x1="47.8" y1="534.03" x2="47.8" y2="543.03" stroke="#6aab3c" stroke-width="1"/>
<line x1="45.7" y1="534.03" x2="49.9" y2="534.03" stroke="#6aab3c" stroke-width="1"/>
<line x1="45.7" y1="543.03" x2="49.9" y2="543.03" stroke="#6aab3c" stroke-width="1"/>
<rect x="45.4" y="536.13" width="4.8" height="4.8" fill="#6aab3c"/>
<line x1="68.05" y1="532.74" x2="68.05" y2="542.74" stroke="#6aab3c" stroke-width="1"/>
<line x1="65.95" y1="532.74" x2="70.15" y2="532.74" stroke="#6aab3c" stroke-width="1"/>
<line x1="65.95" y1="542.74" x2="70.15" y2="542.74" stroke="#6aab3c" stroke-width="1"/>
<circle cx="68.05" cy="537.74" r="2.4" fill="#6aab3c"/>
<line x1="88.3" y1="526.9" x2="88.3" y2="539.9" stroke="#6aab3c" stroke-width="1"/>
<line x1="86.2" y1="526.9" x2="90.4" y2="526.9" stroke="#6aab3c" stroke-width="1"/>
<line x1="86.2" y1="539.9" x2="90.4" y2="539.9" stroke="#6aab3c" stroke-width="1"/>
<rect x="85.9" y="531" width="4.8" height="4.8" fill="#6aab3c"/>
<line x1="108.55" y1="532.24" x2="108.55" y2="543.24" stroke="#6aab3c" stroke-width="1"/>
<line x1="106.45" y1="532.24" x2="110.65" y2="532.24" stroke="#6aab3c" stroke-width="1"/>
<line x1="106.45" y1="543.24" x2="110.65" y2="543.24" stroke="#6aab3c" stroke-width="1"/>
<circle cx="108.55" cy="537.74" r="2.4" fill="#6aab3c"/>
<line x1="128.8" y1="530.56" x2="128.8" y2="542.56" stroke="#6aab3c" stroke-width="1"/>
<line x1="126.7" y1="530.56" x2="130.9" y2="530.56" stroke="#6aab3c" stroke-width="1"/>
<line x1="126.7" y1="542.56" x2="130.9" y2="542.56" stroke="#6aab3c" stroke-width="1"/>
<rect x="126.4" y="534.16" width="4.8" height="4.8" fill="#6aab3c"/>
<polyline points="47.8,536.16 68.05,545.22 88.3,532.22 108.55,538.13 128.8,542.07" fill="none" stroke="#6aab3c" stroke-width="1.3" stroke-dasharray="3.2 2.2"/>
<line x1="47.8" y1="532.16" x2="47.8" y2="540.16" stroke="#6aab3c" stroke-width="1"/>
<line x1="45.7" y1="532.16" x2="49.9" y2="532.16" stroke="#6aab3c" stroke-width="1"/>
<line x1="45.7" y1="540.16" x2="49.9" y2="540.16" stroke="#6aab3c" stroke-width="1"/>
<circle cx="47.8" cy="536.16" r="2" fill="#fff" stroke="#6aab3c" stroke-width="1.15"/>
<line x1="68.05" y1="543.22" x2="68.05" y2="547.22" stroke="#6aab3c" stroke-width="1"/>
<line x1="65.95" y1="543.22" x2="70.15" y2="543.22" stroke="#6aab3c" stroke-width="1"/>
<line x1="65.95" y1="547.22" x2="70.15" y2="547.22" stroke="#6aab3c" stroke-width="1"/>
<circle cx="68.05" cy="545.22" r="2" fill="#fff" stroke="#6aab3c" stroke-width="1.15"/>
<line x1="88.3" y1="527.22" x2="88.3" y2="537.22" stroke="#6aab3c" stroke-width="1"/>
<line x1="86.2" y1="527.22" x2="90.4" y2="527.22" stroke="#6aab3c" stroke-width="1"/>
<line x1="86.2" y1="537.22" x2="90.4" y2="537.22" stroke="#6aab3c" stroke-width="1"/>
<circle cx="88.3" cy="532.22" r="2" fill="#fff" stroke="#6aab3c" stroke-width="1.15"/>
<line x1="108.55" y1="533.13" x2="108.55" y2="543.13" stroke="#6aab3c" stroke-width="1"/>
<line x1="106.45" y1="533.13" x2="110.65" y2="533.13" stroke="#6aab3c" stroke-width="1"/>
<line x1="106.45" y1="543.13" x2="110.65" y2="543.13" stroke="#6aab3c" stroke-width="1"/>
<circle cx="108.55" cy="538.13" r="2" fill="#fff" stroke="#6aab3c" stroke-width="1.15"/>
<line x1="128.8" y1="538.07" x2="128.8" y2="546.07" stroke="#6aab3c" stroke-width="1"/>
<line x1="126.7" y1="538.07" x2="130.9" y2="538.07" stroke="#6aab3c" stroke-width="1"/>
<line x1="126.7" y1="546.07" x2="130.9" y2="546.07" stroke="#6aab3c" stroke-width="1"/>
<circle cx="128.8" cy="542.07" r="2" fill="#fff" stroke="#6aab3c" stroke-width="1.15"/>
<polyline points="47.8,573.99 68.05,577.53 88.3,572.41 108.55,574.77 128.8,574.38" fill="none" stroke="#a8062c" stroke-width="1.1"/>
<line x1="47.8" y1="571.99" x2="47.8" y2="575.99" stroke="#a8062c" stroke-width="1"/>
<line x1="45.7" y1="571.99" x2="49.9" y2="571.99" stroke="#a8062c" stroke-width="1"/>
<line x1="45.7" y1="575.99" x2="49.9" y2="575.99" stroke="#a8062c" stroke-width="1"/>
<circle cx="47.8" cy="573.99" r="2.4" fill="#a8062c"/>
<line x1="68.05" y1="575.53" x2="68.05" y2="579.53" stroke="#a8062c" stroke-width="1"/>
<line x1="65.95" y1="575.53" x2="70.15" y2="575.53" stroke="#a8062c" stroke-width="1"/>
<line x1="65.95" y1="579.53" x2="70.15" y2="579.53" stroke="#a8062c" stroke-width="1"/>
<circle cx="68.05" cy="577.53" r="2.4" fill="#a8062c"/>
<line x1="88.3" y1="567.91" x2="88.3" y2="576.91" stroke="#a8062c" stroke-width="1"/>
<line x1="86.2" y1="567.91" x2="90.4" y2="567.91" stroke="#a8062c" stroke-width="1"/>
<line x1="86.2" y1="576.91" x2="90.4" y2="576.91" stroke="#a8062c" stroke-width="1"/>
<circle cx="88.3" cy="572.41" r="2.4" fill="#a8062c"/>
<line x1="108.55" y1="573.27" x2="108.55" y2="576.27" stroke="#a8062c" stroke-width="1"/>
<line x1="106.45" y1="573.27" x2="110.65" y2="573.27" stroke="#a8062c" stroke-width="1"/>
<line x1="106.45" y1="576.27" x2="110.65" y2="576.27" stroke="#a8062c" stroke-width="1"/>
<rect x="106.15" y="572.37" width="4.8" height="4.8" fill="#a8062c"/>
<line x1="128.8" y1="569.88" x2="128.8" y2="578.88" stroke="#a8062c" stroke-width="1"/>
<line x1="126.7" y1="569.88" x2="130.9" y2="569.88" stroke="#a8062c" stroke-width="1"/>
<line x1="126.7" y1="578.88" x2="130.9" y2="578.88" stroke="#a8062c" stroke-width="1"/>
<circle cx="128.8" cy="574.38" r="2.4" fill="#a8062c"/>
<polyline points="47.8,575.96 68.05,575.56 88.3,566.11 108.55,567.29 128.8,547.19" fill="none" stroke="#a8062c" stroke-width="1.3" stroke-dasharray="3.2 2.2"/>
<line x1="47.8" y1="574.46" x2="47.8" y2="577.46" stroke="#a8062c" stroke-width="1"/>
<line x1="45.7" y1="574.46" x2="49.9" y2="574.46" stroke="#a8062c" stroke-width="1"/>
<line x1="45.7" y1="577.46" x2="49.9" y2="577.46" stroke="#a8062c" stroke-width="1"/>
<circle cx="47.8" cy="575.96" r="2" fill="#fff" stroke="#a8062c" stroke-width="1.15"/>
<line x1="68.05" y1="572.56" x2="68.05" y2="578.56" stroke="#a8062c" stroke-width="1"/>
<line x1="65.95" y1="572.56" x2="70.15" y2="572.56" stroke="#a8062c" stroke-width="1"/>
<line x1="65.95" y1="578.56" x2="70.15" y2="578.56" stroke="#a8062c" stroke-width="1"/>
<circle cx="68.05" cy="575.56" r="2" fill="#fff" stroke="#a8062c" stroke-width="1.15"/>
<line x1="88.3" y1="564.61" x2="88.3" y2="567.61" stroke="#a8062c" stroke-width="1"/>
<line x1="86.2" y1="564.61" x2="90.4" y2="564.61" stroke="#a8062c" stroke-width="1"/>
<line x1="86.2" y1="567.61" x2="90.4" y2="567.61" stroke="#a8062c" stroke-width="1"/>
<circle cx="88.3" cy="566.11" r="2" fill="#fff" stroke="#a8062c" stroke-width="1.15"/>
<line x1="108.55" y1="565.79" x2="108.55" y2="568.79" stroke="#a8062c" stroke-width="1"/>
<line x1="106.45" y1="565.79" x2="110.65" y2="565.79" stroke="#a8062c" stroke-width="1"/>
<line x1="106.45" y1="568.79" x2="110.65" y2="568.79" stroke="#a8062c" stroke-width="1"/>
<circle cx="108.55" cy="567.29" r="2" fill="#fff" stroke="#a8062c" stroke-width="1.15"/>
<line x1="128.8" y1="542.19" x2="128.8" y2="552.19" stroke="#a8062c" stroke-width="1"/>
<line x1="126.7" y1="542.19" x2="130.9" y2="542.19" stroke="#a8062c" stroke-width="1"/>
<line x1="126.7" y1="552.19" x2="130.9" y2="552.19" stroke="#a8062c" stroke-width="1"/>
<circle cx="128.8" cy="547.19" r="2" fill="#fff" stroke="#a8062c" stroke-width="1.15"/>
<path d="M132.3 549 H136.6 V576.3 H132.3" fill="none" stroke="#222" stroke-width="1"/>
<ellipse cx="140.9" cy="560.1" rx="1.0" ry="1.1" fill="#c42a52"/><ellipse cx="140.9" cy="563" rx="1.0" ry="1.1" fill="#c42a52"/>
<text x="194.3" y="488.8" font-size="6.8" fill="#111" text-anchor="middle" textLength="50" lengthAdjust="spacingAndGlyphs" stroke="#111" stroke-width="0.12">Hemoglobin (g/L)</text>
<line x1="171.4" y1="502" x2="171.4" y2="587.35" stroke="#333" stroke-width="1.5"/>
<line x1="168.4" y1="586.6" x2="171.4" y2="586.6" stroke="#333" stroke-width="1.2"/>
<text x="165.9" y="588.87" font-size="6.3" fill="#111" text-anchor="end" stroke="#111" stroke-width="0.12">0</text>
<line x1="168.4" y1="559.2" x2="171.4" y2="559.2" stroke="#333" stroke-width="1.2"/>
<text x="165.9" y="561.47" font-size="6.3" fill="#111" text-anchor="end" stroke="#111" stroke-width="0.12">100</text>
<line x1="168.4" y1="531.8" x2="171.4" y2="531.8" stroke="#333" stroke-width="1.2"/>
<text x="165.9" y="534.07" font-size="6.3" fill="#111" text-anchor="end" stroke="#111" stroke-width="0.12">200</text>
<line x1="168.4" y1="504.4" x2="171.4" y2="504.4" stroke="#333" stroke-width="1.2"/>
<text x="165.9" y="506.67" font-size="6.3" fill="#111" text-anchor="end" stroke="#111" stroke-width="0.12">300</text>
<line x1="171.4" y1="586.6" x2="216.7" y2="586.6" stroke="#333" stroke-width="1.5"/>
<line x1="179.8" y1="586.6" x2="179.8" y2="589.2" stroke="#333" stroke-width="0.9"/>
<text x="179.8" y="598" font-size="6.3" fill="#111" text-anchor="middle" stroke="#111" stroke-width="0.12">0</text>
<line x1="210" y1="586.6" x2="210" y2="589.2" stroke="#333" stroke-width="0.9"/>
<text x="210" y="598" font-size="6.3" fill="#111" text-anchor="middle" stroke="#111" stroke-width="0.12">4</text>
<text x="193.9" y="609.7" font-size="8.4" fill="#111" text-anchor="middle" textLength="21" lengthAdjust="spacingAndGlyphs" stroke="#111" stroke-width="0.22">Weeks</text>
<text x="175" y="518.2" font-size="6.6" fill="#a8062c" font-style="italic" stroke="#a8062c" stroke-width="0.12">E12</text>
<text x="175" y="560" font-size="6.6" fill="#6aab3c" font-style="italic" stroke="#6aab3c" stroke-width="0.12">WT</text>
<polyline points="179.8,525.77 210,523.85" fill="none" stroke="#a8062c" stroke-width="1.1"/>
<line x1="179.8" y1="521.77" x2="179.8" y2="529.77" stroke="#a8062c" stroke-width="1"/>
<line x1="177.7" y1="521.77" x2="181.9" y2="521.77" stroke="#a8062c" stroke-width="1"/>
<line x1="177.7" y1="529.77" x2="181.9" y2="529.77" stroke="#a8062c" stroke-width="1"/>
<circle cx="179.8" cy="525.77" r="2.7" fill="#a8062c"/>
<line x1="210" y1="520.85" x2="210" y2="526.85" stroke="#a8062c" stroke-width="1"/>
<line x1="207.9" y1="520.85" x2="212.1" y2="520.85" stroke="#a8062c" stroke-width="1"/>
<line x1="207.9" y1="526.85" x2="212.1" y2="526.85" stroke="#a8062c" stroke-width="1"/>
<circle cx="210" cy="523.85" r="2.7" fill="#a8062c"/>
<polyline points="179.8,532.62 210,551.25" fill="none" stroke="#a8062c" stroke-width="1.3" stroke-dasharray="3.2 2.2"/>
<line x1="179.8" y1="527.62" x2="179.8" y2="537.62" stroke="#a8062c" stroke-width="1"/>
<line x1="177.7" y1="527.62" x2="181.9" y2="527.62" stroke="#a8062c" stroke-width="1"/>
<line x1="177.7" y1="537.62" x2="181.9" y2="537.62" stroke="#a8062c" stroke-width="1"/>
<circle cx="179.8" cy="532.62" r="2.5" fill="#fff" stroke="#a8062c" stroke-width="1.15"/>
<line x1="210" y1="548.25" x2="210" y2="554.25" stroke="#a8062c" stroke-width="1"/>
<line x1="207.9" y1="548.25" x2="212.1" y2="548.25" stroke="#a8062c" stroke-width="1"/>
<line x1="207.9" y1="554.25" x2="212.1" y2="554.25" stroke="#a8062c" stroke-width="1"/>
<circle cx="210" cy="551.25" r="2.5" fill="#fff" stroke="#a8062c" stroke-width="1.15"/>
<polyline points="179.8,546.6 210,551.53" fill="none" stroke="#6aab3c" stroke-width="1.1"/>
<line x1="179.8" y1="543.6" x2="179.8" y2="549.6" stroke="#6aab3c" stroke-width="1"/>
<line x1="177.7" y1="543.6" x2="181.9" y2="543.6" stroke="#6aab3c" stroke-width="1"/>
<line x1="177.7" y1="549.6" x2="181.9" y2="549.6" stroke="#6aab3c" stroke-width="1"/>
<circle cx="179.8" cy="546.6" r="2.6" fill="#6aab3c"/>
<line x1="210" y1="549.53" x2="210" y2="553.53" stroke="#6aab3c" stroke-width="1"/>
<line x1="207.9" y1="549.53" x2="212.1" y2="549.53" stroke="#6aab3c" stroke-width="1"/>
<line x1="207.9" y1="553.53" x2="212.1" y2="553.53" stroke="#6aab3c" stroke-width="1"/>
<rect x="207.4" y="548.93" width="5.2" height="5.2" fill="#6aab3c"/>
<polyline points="179.8,543.31 210,550.71" fill="none" stroke="#6aab3c" stroke-width="1.3" stroke-dasharray="3.2 2.2"/>
<line x1="179.8" y1="539.31" x2="179.8" y2="547.31" stroke="#6aab3c" stroke-width="1"/>
<line x1="177.7" y1="539.31" x2="181.9" y2="539.31" stroke="#6aab3c" stroke-width="1"/>
<line x1="177.7" y1="547.31" x2="181.9" y2="547.31" stroke="#6aab3c" stroke-width="1"/>
<rect x="177" y="540.51" width="5.6" height="5.6" fill="#6aab3c"/>
<line x1="210" y1="548.71" x2="210" y2="552.71" stroke="#6aab3c" stroke-width="1"/>
<line x1="207.9" y1="548.71" x2="212.1" y2="548.71" stroke="#6aab3c" stroke-width="1"/>
<line x1="207.9" y1="552.71" x2="212.1" y2="552.71" stroke="#6aab3c" stroke-width="1"/>
<rect x="207.2" y="547.91" width="5.6" height="5.6" fill="#6aab3c"/>
<circle cx="210" cy="551.25" r="2.5" fill="none" stroke="#a8062c" stroke-width="1.1"/>
<ellipse cx="208.55" cy="543.6" rx="1.1" ry="1.0" fill="#c42a52"/>
<ellipse cx="211.45" cy="543.6" rx="1.1" ry="1.0" fill="#c42a52"/>
<text x="261.3" y="488.6" font-size="6.8" fill="#111" text-anchor="middle" textLength="38" lengthAdjust="spacingAndGlyphs" stroke="#111" stroke-width="0.12">Reticulocytes</text>
<text x="261.6" y="496" font-size="6.8" fill="#111" text-anchor="middle" stroke="#111" stroke-width="0.12">(x10<tspan font-size="4.4" dy="-2.6">12</tspan><tspan dy="2.6">/L)</tspan></text>
<line x1="237.8" y1="501" x2="237.8" y2="586.75" stroke="#333" stroke-width="1.5"/>
<line x1="234.8" y1="586" x2="237.8" y2="586" stroke="#333" stroke-width="1.2"/>
<text x="232.3" y="588.27" font-size="6.3" fill="#111" text-anchor="end" stroke="#111" stroke-width="0.12">0</text>
<line x1="234.8" y1="558.2" x2="237.8" y2="558.2" stroke="#333" stroke-width="1.2"/>
<text x="232.3" y="560.47" font-size="6.3" fill="#111" text-anchor="end" stroke="#111" stroke-width="0.12">1</text>
<line x1="234.8" y1="530.4" x2="237.8" y2="530.4" stroke="#333" stroke-width="1.2"/>
<text x="232.3" y="532.67" font-size="6.3" fill="#111" text-anchor="end" stroke="#111" stroke-width="0.12">2</text>
<line x1="234.8" y1="502.6" x2="237.8" y2="502.6" stroke="#333" stroke-width="1.2"/>
<text x="232.3" y="504.87" font-size="6.3" fill="#111" text-anchor="end" stroke="#111" stroke-width="0.12">3</text>
<line x1="237.8" y1="586" x2="284.4" y2="586" stroke="#333" stroke-width="1.5"/>
<line x1="244.8" y1="586" x2="244.8" y2="588.6" stroke="#333" stroke-width="0.9"/>
<text x="244.8" y="598" font-size="6.3" fill="#111" text-anchor="middle" stroke="#111" stroke-width="0.12">0</text>
<line x1="275.7" y1="586" x2="275.7" y2="588.6" stroke="#333" stroke-width="0.9"/>
<text x="275.7" y="598" font-size="6.3" fill="#111" text-anchor="middle" stroke="#111" stroke-width="0.12">4</text>
<text x="260.8" y="609.6" font-size="8.4" fill="#111" text-anchor="middle" textLength="21" lengthAdjust="spacingAndGlyphs" stroke="#111" stroke-width="0.22">Weeks</text>
<text x="240.3" y="517.6" font-size="6.6" fill="#a8062c" font-style="italic" stroke="#a8062c" stroke-width="0.12">E12</text>
<text x="240.3" y="570.8" font-size="6.6" fill="#6aab3c" font-style="italic" stroke="#6aab3c" stroke-width="0.12">WT</text>
<polyline points="244.8,576.83 275.7,579.61" fill="none" stroke="#6aab3c" stroke-width="1.1"/>
<line x1="244.8" y1="575.83" x2="244.8" y2="577.83" stroke="#6aab3c" stroke-width="1"/>
<line x1="242.7" y1="575.83" x2="246.9" y2="575.83" stroke="#6aab3c" stroke-width="1"/>
<line x1="242.7" y1="577.83" x2="246.9" y2="577.83" stroke="#6aab3c" stroke-width="1"/>
<rect x="242.1" y="574.13" width="5.4" height="5.4" fill="#6aab3c"/>
<line x1="275.7" y1="578.61" x2="275.7" y2="580.61" stroke="#6aab3c" stroke-width="1"/>
<line x1="273.6" y1="578.61" x2="277.8" y2="578.61" stroke="#6aab3c" stroke-width="1"/>
<line x1="273.6" y1="580.61" x2="277.8" y2="580.61" stroke="#6aab3c" stroke-width="1"/>
<rect x="273" y="576.91" width="5.4" height="5.4" fill="#6aab3c"/>
<polyline points="244.8,529.84 275.7,522.62" fill="none" stroke="#a8062c" stroke-width="1.1"/>
<line x1="244.8" y1="525.84" x2="244.8" y2="533.84" stroke="#a8062c" stroke-width="1"/>
<line x1="242.7" y1="525.84" x2="246.9" y2="525.84" stroke="#a8062c" stroke-width="1"/>
<line x1="242.7" y1="533.84" x2="246.9" y2="533.84" stroke="#a8062c" stroke-width="1"/>
<circle cx="244.8" cy="529.84" r="2.7" fill="#a8062c"/>
<line x1="275.7" y1="518.62" x2="275.7" y2="526.62" stroke="#a8062c" stroke-width="1"/>
<line x1="273.6" y1="518.62" x2="277.8" y2="518.62" stroke="#a8062c" stroke-width="1"/>
<line x1="273.6" y1="526.62" x2="277.8" y2="526.62" stroke="#a8062c" stroke-width="1"/>
<circle cx="275.7" cy="522.62" r="2.7" fill="#a8062c"/>
<polyline points="244.8,523.73 275.7,540.13" fill="none" stroke="#a8062c" stroke-width="1.3" stroke-dasharray="3.2 2.2"/>
<line x1="244.8" y1="519.73" x2="244.8" y2="527.73" stroke="#a8062c" stroke-width="1"/>
<line x1="242.7" y1="519.73" x2="246.9" y2="519.73" stroke="#a8062c" stroke-width="1"/>
<line x1="242.7" y1="527.73" x2="246.9" y2="527.73" stroke="#a8062c" stroke-width="1"/>
<circle cx="244.8" cy="523.73" r="2.5" fill="#fff" stroke="#a8062c" stroke-width="1.15"/>
<line x1="275.7" y1="536.13" x2="275.7" y2="544.13" stroke="#a8062c" stroke-width="1"/>
<line x1="273.6" y1="536.13" x2="277.8" y2="536.13" stroke="#a8062c" stroke-width="1"/>
<line x1="273.6" y1="544.13" x2="277.8" y2="544.13" stroke="#a8062c" stroke-width="1"/>
<circle cx="275.7" cy="540.13" r="2.5" fill="#fff" stroke="#a8062c" stroke-width="1.15"/>
<ellipse cx="274.25" cy="549" rx="1.1" ry="1.0" fill="#c42a52"/>
<ellipse cx="277.15" cy="549" rx="1.1" ry="1.0" fill="#c42a52"/>
<text x="289.2" y="465.3" font-size="12" fill="#000" font-weight="bold">M</text>
<text x="303" y="474.8" font-size="9" fill="#111" textLength="187.4" lengthAdjust="spacingAndGlyphs" stroke="#111" stroke-width="0.22">Glucose tolerance test in bone marrow transplant</text>
<text x="396.6" y="484" font-size="9" fill="#111" text-anchor="middle" textLength="36.7" lengthAdjust="spacingAndGlyphs" stroke="#111" stroke-width="0.22">recipients</text>
<g transform="translate(339.10 494.10)"><path d="M8.2 0.3 C7.8 -2.4 6.4 -4.3 4.2 -3.9 C1.8 -3.5 -0.8 -1.6 -3.4 -1.9 C-4.6 -2.1 -5.4 -2.6 -6 -2.8" fill="none" stroke="#222" stroke-width="0.9"/><path d="M2.6 16.4 l-1.3 1.5 M3.4 16.6 l-0.2 1.7 M14.2 16.4 l1.3 1.5 M13.4 16.6 l0.2 1.7" stroke="#999" stroke-width="0.7"/><path d="M8.4 0 C12.6 0 15.4 4.5 16.2 8.8 C16.8 11.6 16.8 14.2 15.4 15.6 C13.6 17 11 17 8.4 17 C5.8 17 3.2 17 1.4 15.6 C0 14.2 0 11.6 0.6 8.8 C1.4 4.5 4.2 0 8.4 0 Z" fill="#8fc265" stroke="#1a1a1a" stroke-width="0.75"/><ellipse cx="4.3" cy="12" rx="3.3" ry="2.9" fill="#9ccf70"/><ellipse cx="12.5" cy="12" rx="3.3" ry="2.9" fill="#9ccf70"/><path d="M1.2 10.2 C2.6 7.6 5.8 7.3 7.8 9.6 M15.6 10.2 C14.2 7.6 11 7.3 9 9.6" fill="none" stroke="#1a1a1a" stroke-width="0.85"/><circle cx="6.6" cy="12.5" r="0.75" fill="#111"/><circle cx="10.2" cy="12.5" r="0.75" fill="#111"/><path d="M5.8 16.3 C7 15.3 9.8 15.3 11 16.3 L10.6 17.1 L6.2 17.1Z" fill="#151515"/></g>
<g transform="translate(339.10 543.90)"><path d="M8.2 0.3 C7.8 -2.4 6.4 -4.3 4.2 -3.9 C1.8 -3.5 -0.8 -1.6 -3.4 -1.9 C-4.6 -2.1 -5.4 -2.6 -6 -2.8" fill="none" stroke="#222" stroke-width="0.9"/><path d="M2.6 16.4 l-1.3 1.5 M3.4 16.6 l-0.2 1.7 M14.2 16.4 l1.3 1.5 M13.4 16.6 l0.2 1.7" stroke="#999" stroke-width="0.7"/><path d="M8.4 0 C12.6 0 15.4 4.5 16.2 8.8 C16.8 11.6 16.8 14.2 15.4 15.6 C13.6 17 11 17 8.4 17 C5.8 17 3.2 17 1.4 15.6 C0 14.2 0 11.6 0.6 8.8 C1.4 4.5 4.2 0 8.4 0 Z" fill="#787878" stroke="#1a1a1a" stroke-width="0.75"/><ellipse cx="4.3" cy="12" rx="3.3" ry="2.9" fill="#8a8a8a"/><ellipse cx="12.5" cy="12" rx="3.3" ry="2.9" fill="#8a8a8a"/><path d="M1.2 10.2 C2.6 7.6 5.8 7.3 7.8 9.6 M15.6 10.2 C14.2 7.6 11 7.3 9 9.6" fill="none" stroke="#1a1a1a" stroke-width="0.85"/><circle cx="6.6" cy="12.5" r="0.75" fill="#111"/><circle cx="10.2" cy="12.5" r="0.75" fill="#111"/><path d="M5.8 16.3 C7 15.3 9.8 15.3 11 16.3 L10.6 17.1 L6.2 17.1Z" fill="#151515"/></g>
<path d="M352 544.4 L355.2 538.6 L354 538.8 L357.6 534.0 L360.6 533.8 L357.4 537.8 L358.8 537.6 Z" fill="#f2c21c" stroke="#222" stroke-width="0.6" stroke-linejoin="round"/>
<line x1="346.3" y1="516.9" x2="346.3" y2="530" stroke="#c4c4c4" stroke-width="1.5"/>
<path d="M343.4 529.4 L346.3 534.4 L349.2 529.4 Z" fill="#c4c4c4"/>
<line x1="346.3" y1="568" x2="346.3" y2="585.5" stroke="#c4c4c4" stroke-width="1.5"/>
<path d="M343.4 585 L346.3 590 L349.2 585 Z" fill="#c4c4c4"/>
<line x1="330.7" y1="568.8" x2="342" y2="568.8" stroke="#e08c1c" stroke-width="1.1"/>
<path d="M340.6 566.6 L344.6 568.8 L340.6 571 Z" fill="#e08c1c"/>
<text x="328.9" y="495.4" font-size="6.6" fill="#2c4a8a" text-anchor="end" font-style="italic" textLength="29.4" lengthAdjust="spacingAndGlyphs">VF;GFP or</text>
<text x="328.9" y="503.1" font-size="6.6" fill="#a8062c" text-anchor="end" font-style="italic" textLength="24.7" lengthAdjust="spacingAndGlyphs">E12;GFP</text>
<text x="328.9" y="511.1" font-size="6.6" fill="#6aab3c" text-anchor="end" font-style="italic" textLength="30.6" lengthAdjust="spacingAndGlyphs">or WT;GFP</text>
<text x="320.8" y="523.4" font-size="6.6" fill="#222" text-anchor="middle" textLength="25" lengthAdjust="spacingAndGlyphs">Total BM</text>
<text x="320.8" y="530.6" font-size="6.6" fill="#222" text-anchor="middle">(2x10<tspan font-size="4.2" dy="-2.4">6</tspan><tspan dy="2.4">)</tspan></text>
<text x="361.8" y="530.4" font-size="6.6" fill="#222" text-anchor="middle" textLength="16.3" lengthAdjust="spacingAndGlyphs">12 Gy</text>
<text x="321.1" y="549.5" font-size="6.6" fill="#222" text-anchor="middle" font-style="italic">WT</text>
<text x="321.1" y="557.6" font-size="6.6" fill="#222" text-anchor="middle" textLength="25" lengthAdjust="spacingAndGlyphs">recipient</text>
<text x="315.5" y="571.1" font-size="6.6" fill="#e08c1c" text-anchor="middle" textLength="25.1" lengthAdjust="spacingAndGlyphs">TAM (5x)</text>
<text x="324.1" y="589.3" font-size="6.6" fill="#222" text-anchor="middle" textLength="26" lengthAdjust="spacingAndGlyphs">12 weeks</text>
<text x="346.4" y="598.3" font-size="6.6" fill="#222" text-anchor="middle" textLength="32.6" lengthAdjust="spacingAndGlyphs">Assessment</text>
<line x1="403.2" y1="505.1" x2="403.2" y2="587.05" stroke="#333" stroke-width="1.5"/>
<line x1="400.2" y1="586.3" x2="403.2" y2="586.3" stroke="#333" stroke-width="1.2"/>
<text x="397.7" y="588.57" font-size="6.3" fill="#111" text-anchor="end" stroke="#111" stroke-width="0.12">0.0</text>
<line x1="400.2" y1="566.7" x2="403.2" y2="566.7" stroke="#333" stroke-width="1.2"/>
<text x="397.7" y="568.97" font-size="6.3" fill="#111" text-anchor="end" stroke="#111" stroke-width="0.12">1.0</text>
<line x1="400.2" y1="547.1" x2="403.2" y2="547.1" stroke="#333" stroke-width="1.2"/>
<text x="397.7" y="549.37" font-size="6.3" fill="#111" text-anchor="end" stroke="#111" stroke-width="0.12">2.0</text>
<line x1="400.2" y1="527.5" x2="403.2" y2="527.5" stroke="#333" stroke-width="1.2"/>
<text x="397.7" y="529.77" font-size="6.3" fill="#111" text-anchor="end" stroke="#111" stroke-width="0.12">3.0</text>
<line x1="400.2" y1="507.9" x2="403.2" y2="507.9" stroke="#333" stroke-width="1.2"/>
<text x="397.7" y="510.17" font-size="6.3" fill="#111" text-anchor="end" stroke="#111" stroke-width="0.12">4.0</text>
<line x1="401.1" y1="576.5" x2="403.2" y2="576.5" stroke="#333" stroke-width="0.8"/>
<line x1="401.1" y1="556.9" x2="403.2" y2="556.9" stroke="#333" stroke-width="0.8"/>
<line x1="401.1" y1="537.3" x2="403.2" y2="537.3" stroke="#333" stroke-width="0.8"/>
<line x1="401.1" y1="517.7" x2="403.2" y2="517.7" stroke="#333" stroke-width="0.8"/>
<line x1="403.2" y1="586.3" x2="513.1" y2="586.3" stroke="#333" stroke-width="1.5"/>
<line x1="412.7" y1="586.3" x2="412.7" y2="589.3" stroke="#333" stroke-width="1.1"/>
<text x="412.7" y="598" font-size="6.3" fill="#111" text-anchor="middle" stroke="#111" stroke-width="0.12">0</text>
<line x1="431.2" y1="586.3" x2="431.2" y2="589.3" stroke="#333" stroke-width="1.1"/>
<text x="431.2" y="598" font-size="6.3" fill="#111" text-anchor="middle" stroke="#111" stroke-width="0.12">15</text>
<line x1="449.6" y1="586.3" x2="449.6" y2="589.3" stroke="#333" stroke-width="1.1"/>
<text x="449.6" y="598" font-size="6.3" fill="#111" text-anchor="middle" stroke="#111" stroke-width="0.12">30</text>
<line x1="468.5" y1="586.3" x2="468.5" y2="589.3" stroke="#333" stroke-width="1.1"/>
<text x="468.5" y="598" font-size="6.3" fill="#111" text-anchor="middle" stroke="#111" stroke-width="0.12">60</text>
<line x1="487.2" y1="586.3" x2="487.2" y2="589.3" stroke="#333" stroke-width="1.1"/>
<text x="487.2" y="598" font-size="6.3" fill="#111" text-anchor="middle" stroke="#111" stroke-width="0.12">90</text>
<line x1="505.7" y1="586.3" x2="505.7" y2="589.3" stroke="#333" stroke-width="1.1"/>
<text x="505.7" y="598" font-size="6.3" fill="#111" text-anchor="middle" stroke="#111" stroke-width="0.12">120</text>
<text x="458" y="609.2" font-size="8.4" fill="#111" text-anchor="middle" textLength="33" lengthAdjust="spacingAndGlyphs" stroke="#111" stroke-width="0.22">Time (min)</text>
<text x="383" y="545.5" font-size="8.8" fill="#111" text-anchor="middle" transform="rotate(-90 383 545.5)" textLength="57.5" lengthAdjust="spacingAndGlyphs" stroke="#111" stroke-width="0.22">Blood glucose (g/L)</text>
<line x1="412.7" y1="602.5" x2="412.7" y2="611" stroke="#111" stroke-width="0.8"/>
<path d="M410.9 603 L414.5 603 L412.7 599.6z" fill="#111"/>
<text x="412.4" y="617.9" font-size="6.6" fill="#111" text-anchor="middle" textLength="22.3" lengthAdjust="spacingAndGlyphs" stroke="#111" stroke-width="0.12">Glucose</text>
<polyline points="412.7,569.2 431.2,536.9 449.6,538.5 468.5,558.4 487.2,562.8 505.7,566.9" fill="none" stroke="#6aab3c" stroke-width="1.1"/>
<line x1="412.7" y1="568.2" x2="412.7" y2="570.2" stroke="#6aab3c" stroke-width="1"/>
<line x1="410.6" y1="568.2" x2="414.8" y2="568.2" stroke="#6aab3c" stroke-width="1"/>
<line x1="410.6" y1="570.2" x2="414.8" y2="570.2" stroke="#6aab3c" stroke-width="1"/>
<circle cx="412.7" cy="569.2" r="2.4" fill="#6aab3c"/>
<line x1="431.2" y1="532.9" x2="431.2" y2="540.9" stroke="#6aab3c" stroke-width="1"/>
<line x1="429.1" y1="532.9" x2="433.3" y2="532.9" stroke="#6aab3c" stroke-width="1"/>
<line x1="429.1" y1="540.9" x2="433.3" y2="540.9" stroke="#6aab3c" stroke-width="1"/>
<circle cx="431.2" cy="536.9" r="2.4" fill="#6aab3c"/>
<line x1="449.6" y1="529.5" x2="449.6" y2="547.5" stroke="#6aab3c" stroke-width="1"/>
<line x1="447.5" y1="529.5" x2="451.7" y2="529.5" stroke="#6aab3c" stroke-width="1"/>
<line x1="447.5" y1="547.5" x2="451.7" y2="547.5" stroke="#6aab3c" stroke-width="1"/>
<circle cx="449.6" cy="538.5" r="2.4" fill="#6aab3c"/>
<line x1="468.5" y1="556.4" x2="468.5" y2="560.4" stroke="#6aab3c" stroke-width="1"/>
<line x1="466.4" y1="556.4" x2="470.6" y2="556.4" stroke="#6aab3c" stroke-width="1"/>
<line x1="466.4" y1="560.4" x2="470.6" y2="560.4" stroke="#6aab3c" stroke-width="1"/>
<circle cx="468.5" cy="558.4" r="2.4" fill="#6aab3c"/>
<line x1="487.2" y1="560.8" x2="487.2" y2="564.8" stroke="#6aab3c" stroke-width="1"/>
<line x1="485.1" y1="560.8" x2="489.3" y2="560.8" stroke="#6aab3c" stroke-width="1"/>
<line x1="485.1" y1="564.8" x2="489.3" y2="564.8" stroke="#6aab3c" stroke-width="1"/>
<circle cx="487.2" cy="562.8" r="2.4" fill="#6aab3c"/>
<line x1="505.7" y1="564.9" x2="505.7" y2="568.9" stroke="#6aab3c" stroke-width="1"/>
<line x1="503.6" y1="564.9" x2="507.8" y2="564.9" stroke="#6aab3c" stroke-width="1"/>
<line x1="503.6" y1="568.9" x2="507.8" y2="568.9" stroke="#6aab3c" stroke-width="1"/>
<circle cx="505.7" cy="566.9" r="2.4" fill="#6aab3c"/>
<polyline points="412.7,575.7 431.2,564.6 449.6,574.3 468.5,576.2 487.2,575.7 505.7,578.5" fill="none" stroke="#2c4a8a" stroke-width="1.1"/>
<line x1="412.7" y1="574.7" x2="412.7" y2="576.7" stroke="#2c4a8a" stroke-width="1"/>
<line x1="410.6" y1="574.7" x2="414.8" y2="574.7" stroke="#2c4a8a" stroke-width="1"/>
<line x1="410.6" y1="576.7" x2="414.8" y2="576.7" stroke="#2c4a8a" stroke-width="1"/>
<circle cx="412.7" cy="575.7" r="2.4" fill="#2c4a8a"/>
<line x1="431.2" y1="561.6" x2="431.2" y2="567.6" stroke="#2c4a8a" stroke-width="1"/>
<line x1="429.1" y1="561.6" x2="433.3" y2="561.6" stroke="#2c4a8a" stroke-width="1"/>
<line x1="429.1" y1="567.6" x2="433.3" y2="567.6" stroke="#2c4a8a" stroke-width="1"/>
<circle cx="431.2" cy="564.6" r="2.4" fill="#2c4a8a"/>
<line x1="449.6" y1="573.3" x2="449.6" y2="575.3" stroke="#2c4a8a" stroke-width="1"/>
<line x1="447.5" y1="573.3" x2="451.7" y2="573.3" stroke="#2c4a8a" stroke-width="1"/>
<line x1="447.5" y1="575.3" x2="451.7" y2="575.3" stroke="#2c4a8a" stroke-width="1"/>
<circle cx="449.6" cy="574.3" r="2.4" fill="#2c4a8a"/>
<line x1="468.5" y1="575.2" x2="468.5" y2="577.2" stroke="#2c4a8a" stroke-width="1"/>
<line x1="466.4" y1="575.2" x2="470.6" y2="575.2" stroke="#2c4a8a" stroke-width="1"/>
<line x1="466.4" y1="577.2" x2="470.6" y2="577.2" stroke="#2c4a8a" stroke-width="1"/>
<circle cx="468.5" cy="576.2" r="2.4" fill="#2c4a8a"/>
<line x1="487.2" y1="574.7" x2="487.2" y2="576.7" stroke="#2c4a8a" stroke-width="1"/>
<line x1="485.1" y1="574.7" x2="489.3" y2="574.7" stroke="#2c4a8a" stroke-width="1"/>
<line x1="485.1" y1="576.7" x2="489.3" y2="576.7" stroke="#2c4a8a" stroke-width="1"/>
<circle cx="487.2" cy="575.7" r="2.4" fill="#2c4a8a"/>
<line x1="505.7" y1="577.5" x2="505.7" y2="579.5" stroke="#2c4a8a" stroke-width="1"/>
<line x1="503.6" y1="577.5" x2="507.8" y2="577.5" stroke="#2c4a8a" stroke-width="1"/>
<line x1="503.6" y1="579.5" x2="507.8" y2="579.5" stroke="#2c4a8a" stroke-width="1"/>
<circle cx="505.7" cy="578.5" r="2.4" fill="#2c4a8a"/>
<polyline points="412.7,582.4 431.2,578.9 449.6,581.9 468.5,581.9 487.2,582.4 505.7,582.4" fill="none" stroke="#a8062c" stroke-width="1.1"/>
<line x1="412.7" y1="581.4" x2="412.7" y2="583.4" stroke="#a8062c" stroke-width="1"/>
<line x1="410.6" y1="581.4" x2="414.8" y2="581.4" stroke="#a8062c" stroke-width="1"/>
<line x1="410.6" y1="583.4" x2="414.8" y2="583.4" stroke="#a8062c" stroke-width="1"/>
<circle cx="412.7" cy="582.4" r="2.4" fill="#a8062c"/>
<line x1="431.2" y1="576.9" x2="431.2" y2="580.9" stroke="#a8062c" stroke-width="1"/>
<line x1="429.1" y1="576.9" x2="433.3" y2="576.9" stroke="#a8062c" stroke-width="1"/>
<line x1="429.1" y1="580.9" x2="433.3" y2="580.9" stroke="#a8062c" stroke-width="1"/>
<circle cx="431.2" cy="578.9" r="2.4" fill="#a8062c"/>
<line x1="449.6" y1="580.9" x2="449.6" y2="582.9" stroke="#a8062c" stroke-width="1"/>
<line x1="447.5" y1="580.9" x2="451.7" y2="580.9" stroke="#a8062c" stroke-width="1"/>
<line x1="447.5" y1="582.9" x2="451.7" y2="582.9" stroke="#a8062c" stroke-width="1"/>
<circle cx="449.6" cy="581.9" r="2.4" fill="#a8062c"/>
<line x1="468.5" y1="580.9" x2="468.5" y2="582.9" stroke="#a8062c" stroke-width="1"/>
<line x1="466.4" y1="580.9" x2="470.6" y2="580.9" stroke="#a8062c" stroke-width="1"/>
<line x1="466.4" y1="582.9" x2="470.6" y2="582.9" stroke="#a8062c" stroke-width="1"/>
<circle cx="468.5" cy="581.9" r="2.4" fill="#a8062c"/>
<line x1="487.2" y1="581.4" x2="487.2" y2="583.4" stroke="#a8062c" stroke-width="1"/>
<line x1="485.1" y1="581.4" x2="489.3" y2="581.4" stroke="#a8062c" stroke-width="1"/>
<line x1="485.1" y1="583.4" x2="489.3" y2="583.4" stroke="#a8062c" stroke-width="1"/>
<circle cx="487.2" cy="582.4" r="2.4" fill="#a8062c"/>
<line x1="505.7" y1="581.4" x2="505.7" y2="583.4" stroke="#a8062c" stroke-width="1"/>
<line x1="503.6" y1="581.4" x2="507.8" y2="581.4" stroke="#a8062c" stroke-width="1"/>
<line x1="503.6" y1="583.4" x2="507.8" y2="583.4" stroke="#a8062c" stroke-width="1"/>
<circle cx="505.7" cy="582.4" r="2.4" fill="#a8062c"/>
<ellipse cx="412.7" cy="557.2" rx="1.1" ry="1.0" fill="#3a58a4"/>
<ellipse cx="409.8" cy="562.8" rx="1.1" ry="1.0" fill="#c42a52"/>
<ellipse cx="412.7" cy="562.8" rx="1.1" ry="1.0" fill="#c42a52"/>
<ellipse cx="415.6" cy="562.8" rx="1.1" ry="1.0" fill="#c42a52"/>
<ellipse cx="429.75" cy="522.6" rx="1.1" ry="1.0" fill="#3a58a4"/>
<ellipse cx="432.65" cy="522.6" rx="1.1" ry="1.0" fill="#3a58a4"/>
<ellipse cx="428.3" cy="528.2" rx="1.1" ry="1.0" fill="#c42a52"/>
<ellipse cx="431.2" cy="528.2" rx="1.1" ry="1.0" fill="#c42a52"/>
<ellipse cx="434.1" cy="528.2" rx="1.1" ry="1.0" fill="#c42a52"/>
<ellipse cx="448.15" cy="519.6" rx="1.1" ry="1.0" fill="#3a58a4"/>
<ellipse cx="451.05" cy="519.6" rx="1.1" ry="1.0" fill="#3a58a4"/>
<ellipse cx="448.15" cy="524.7" rx="1.1" ry="1.0" fill="#c42a52"/>
<ellipse cx="451.05" cy="524.7" rx="1.1" ry="1.0" fill="#c42a52"/>
<ellipse cx="465.6" cy="546.2" rx="1.1" ry="1.0" fill="#3a58a4"/>
<ellipse cx="468.5" cy="546.2" rx="1.1" ry="1.0" fill="#3a58a4"/>
<ellipse cx="471.4" cy="546.2" rx="1.1" ry="1.0" fill="#3a58a4"/>
<ellipse cx="465.6" cy="551.2" rx="1.1" ry="1.0" fill="#c42a52"/>
<ellipse cx="468.5" cy="551.2" rx="1.1" ry="1.0" fill="#c42a52"/>
<ellipse cx="471.4" cy="551.2" rx="1.1" ry="1.0" fill="#c42a52"/>
<ellipse cx="485.75" cy="550.3" rx="1.1" ry="1.0" fill="#3a58a4"/>
<ellipse cx="488.65" cy="550.3" rx="1.1" ry="1.0" fill="#3a58a4"/>
<ellipse cx="484.3" cy="555.8" rx="1.1" ry="1.0" fill="#c42a52"/>
<ellipse cx="487.2" cy="555.8" rx="1.1" ry="1.0" fill="#c42a52"/>
<ellipse cx="490.1" cy="555.8" rx="1.1" ry="1.0" fill="#c42a52"/>
<ellipse cx="504.25" cy="554.2" rx="1.1" ry="1.0" fill="#3a58a4"/>
<ellipse cx="507.15" cy="554.2" rx="1.1" ry="1.0" fill="#3a58a4"/>
<ellipse cx="502.8" cy="559.5" rx="1.1" ry="1.0" fill="#c42a52"/>
<ellipse cx="505.7" cy="559.5" rx="1.1" ry="1.0" fill="#c42a52"/>
<ellipse cx="508.6" cy="559.5" rx="1.1" ry="1.0" fill="#c42a52"/>
<circle cx="484.2" cy="511.5" r="2.4" fill="#6aab3c"/>
<text x="489" y="513.7" font-size="6.3" fill="#6aab3c" font-style="italic" stroke="#6aab3c" stroke-width="0.12">WT</text>
<circle cx="484.2" cy="520.8" r="2.4" fill="#2c4a8a"/>
<text x="489" y="523" font-size="6.3" fill="#2c4a8a" font-style="italic" stroke="#2c4a8a" stroke-width="0.12">VF</text>
<circle cx="484.2" cy="529.5" r="2.4" fill="#a8062c"/>
<text x="489" y="531.7" font-size="6.3" fill="#a8062c" font-style="italic" stroke="#a8062c" stroke-width="0.12">E12</text>
</svg><div id="frame"></div></div></body></html>
